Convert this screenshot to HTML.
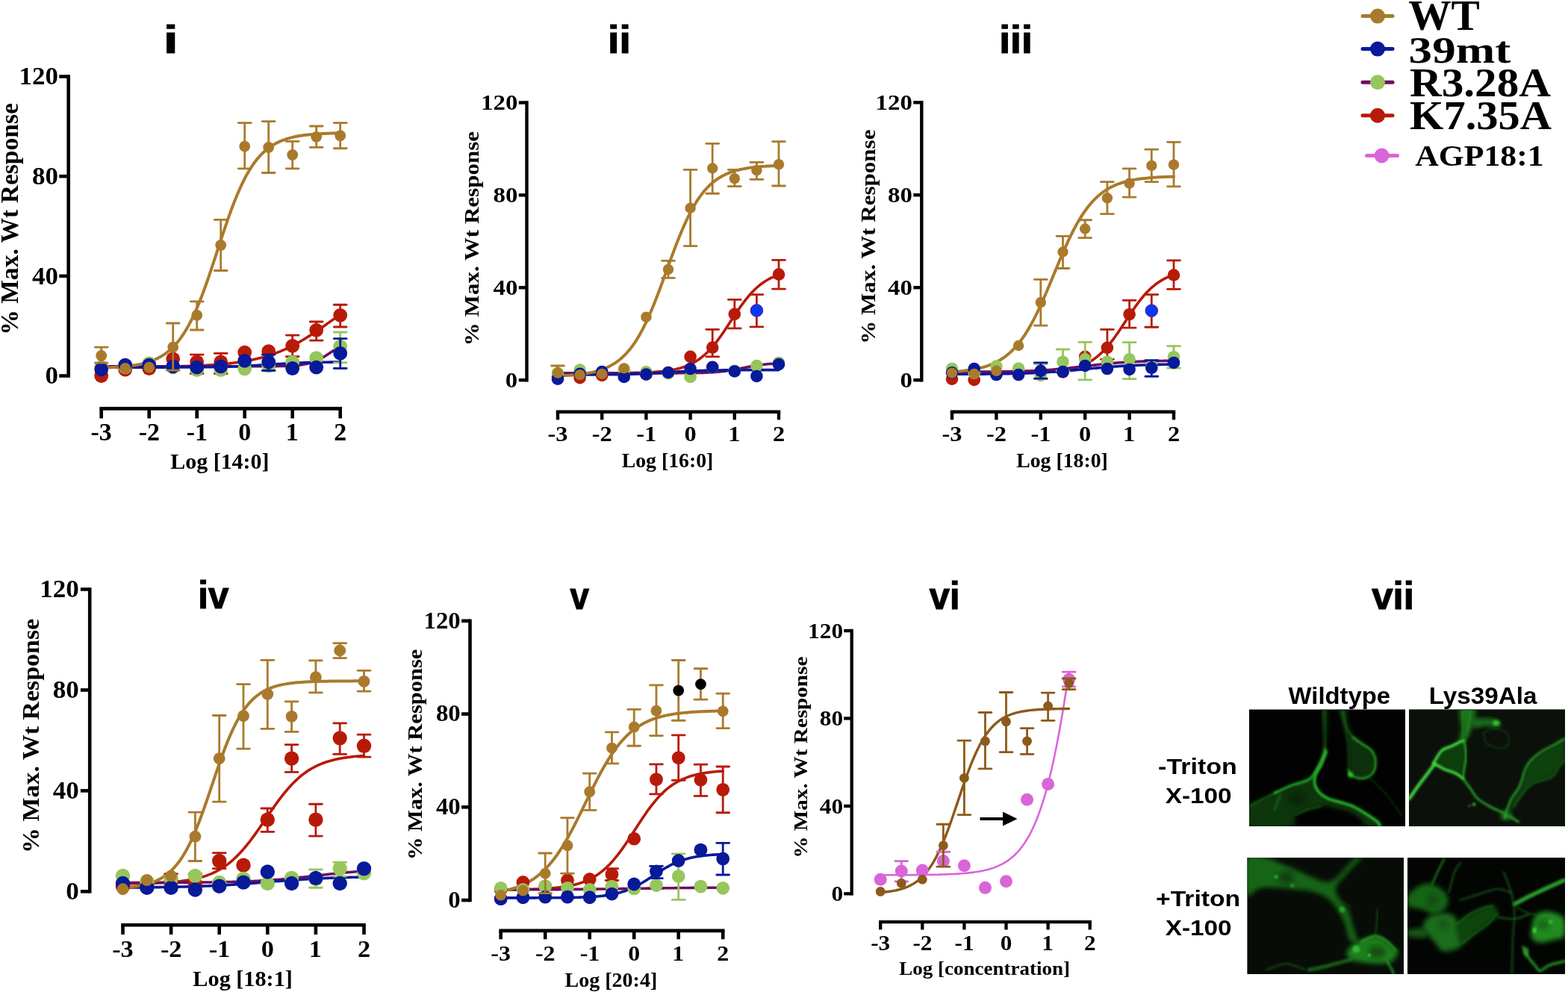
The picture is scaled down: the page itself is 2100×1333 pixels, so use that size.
<!DOCTYPE html>
<html><head><meta charset="utf-8"><title>Figure</title>
<style>html,body{margin:0;padding:0;background:#fff;} svg{display:block;}</style></head>
<body><svg width="2100" height="1333" viewBox="0 0 2100 1333">
<rect width="2100" height="1333" fill="#fff"/>
<g stroke="#000" stroke-width="4.6" fill="none" stroke-linecap="butt">
<line x1="91.7" y1="100.2" x2="91.7" y2="505.8"/>
<line x1="79.3" y1="503.50" x2="91.7" y2="503.50"/>
<line x1="79.3" y1="369.83" x2="91.7" y2="369.83"/>
<line x1="79.3" y1="236.17" x2="91.7" y2="236.17"/>
<line x1="79.3" y1="102.50" x2="91.7" y2="102.50"/>
<line x1="133.40" y1="547.4" x2="458.00" y2="547.4"/>
<line x1="135.70" y1="547.4" x2="135.70" y2="560.5"/>
<line x1="199.70" y1="547.4" x2="199.70" y2="560.5"/>
<line x1="263.70" y1="547.4" x2="263.70" y2="560.5"/>
<line x1="327.70" y1="547.4" x2="327.70" y2="560.5"/>
<line x1="391.70" y1="547.4" x2="391.70" y2="560.5"/>
<line x1="455.70" y1="547.4" x2="455.70" y2="560.5"/>
</g>
<text x="60.52" y="514.30" font-family="'Liberation Serif', 'Times New Roman', serif" font-weight="bold" font-size="32.70" textLength="17.51" lengthAdjust="spacingAndGlyphs" fill="#000" >0</text>
<text x="43.01" y="380.63" font-family="'Liberation Serif', 'Times New Roman', serif" font-weight="bold" font-size="32.70" textLength="35.02" lengthAdjust="spacingAndGlyphs" fill="#000" >40</text>
<text x="43.01" y="246.97" font-family="'Liberation Serif', 'Times New Roman', serif" font-weight="bold" font-size="32.70" textLength="35.02" lengthAdjust="spacingAndGlyphs" fill="#000" >80</text>
<text x="25.50" y="113.30" font-family="'Liberation Serif', 'Times New Roman', serif" font-weight="bold" font-size="32.70" textLength="52.53" lengthAdjust="spacingAndGlyphs" fill="#000" >120</text>
<text x="121.50" y="590.00" font-family="'Liberation Serif', 'Times New Roman', serif" font-weight="bold" font-size="33.00" textLength="28.31" lengthAdjust="spacingAndGlyphs" fill="#000" >-3</text>
<text x="185.65" y="590.00" font-family="'Liberation Serif', 'Times New Roman', serif" font-weight="bold" font-size="33.00" textLength="28.31" lengthAdjust="spacingAndGlyphs" fill="#000" >-2</text>
<text x="249.80" y="590.00" font-family="'Liberation Serif', 'Times New Roman', serif" font-weight="bold" font-size="33.00" textLength="28.31" lengthAdjust="spacingAndGlyphs" fill="#000" >-1</text>
<text x="319.20" y="590.00" font-family="'Liberation Serif', 'Times New Roman', serif" font-weight="bold" font-size="33.00" textLength="17.00" lengthAdjust="spacingAndGlyphs" fill="#000" >0</text>
<text x="382.72" y="590.00" font-family="'Liberation Serif', 'Times New Roman', serif" font-weight="bold" font-size="33.00" textLength="16.99" lengthAdjust="spacingAndGlyphs" fill="#000" >1</text>
<text x="447.22" y="590.00" font-family="'Liberation Serif', 'Times New Roman', serif" font-weight="bold" font-size="33.00" textLength="17.00" lengthAdjust="spacingAndGlyphs" fill="#000" >2</text>
<text x="228.29" y="628.10" font-family="'Liberation Serif', 'Times New Roman', serif" font-weight="bold" font-size="28.50" textLength="132.23" lengthAdjust="spacingAndGlyphs" fill="#000" >Log [14:0]</text>
<text transform="rotate(-90)" x="-448.73" y="23.90" font-family="'Liberation Serif', 'Times New Roman', serif" font-weight="bold" font-size="32.80" textLength="310.60" lengthAdjust="spacingAndGlyphs">% Max. Wt Response</text>
<text x="219.11" y="71.00" font-family="'Liberation Sans', Arial, Helvetica, sans-serif" font-weight="bold" font-size="51.50" textLength="19.44" lengthAdjust="spacingAndGlyphs" fill="#000" stroke="#000" stroke-width="1.2">i</text>
<polyline points="135.70,491.71 138.37,491.70 141.03,491.70 143.70,491.69 146.37,491.68 149.03,491.68 151.70,491.67 154.37,491.66 157.03,491.65 159.70,491.64 162.37,491.63 165.03,491.62 167.70,491.61 170.37,491.59 173.03,491.58 175.70,491.57 178.37,491.55 181.03,491.53 183.70,491.52 186.37,491.50 189.03,491.48 191.70,491.46 194.37,491.43 197.03,491.41 199.70,491.39 202.37,491.36 205.03,491.33 207.70,491.30 210.37,491.27 213.03,491.23 215.70,491.20 218.37,491.16 221.03,491.12 223.70,491.07 226.37,491.03 229.03,490.98 231.70,490.92 234.37,490.87 237.03,490.81 239.70,490.74 242.37,490.68 245.03,490.60 247.70,490.53 250.37,490.45 253.03,490.36 255.70,490.27 258.37,490.17 261.03,490.07 263.70,489.96 266.37,489.84 269.03,489.72 271.70,489.59 274.37,489.45 277.03,489.30 279.70,489.14 282.37,488.97 285.03,488.79 287.70,488.61 290.37,488.41 293.03,488.19 295.70,487.97 298.37,487.73 301.03,487.48 303.70,487.21 306.37,486.92 309.03,486.62 311.70,486.31 314.37,485.97 317.03,485.61 319.70,485.24 322.37,484.84 325.03,484.42 327.70,483.97 330.37,483.50 333.03,483.01 335.70,482.48 338.37,481.93 341.03,481.35 343.70,480.74 346.37,480.10 349.03,479.42 351.70,478.71 354.37,477.96 357.03,477.18 359.70,476.35 362.37,475.49 365.03,474.59 367.70,473.65 370.37,472.66 373.03,471.64 375.70,470.56 378.37,469.45 381.03,468.29 383.70,467.08 386.37,465.83 389.03,464.53 391.70,463.19 394.37,461.80 397.03,460.37 399.70,458.89 402.37,457.37 405.03,455.81 407.70,454.20 410.37,452.56 413.03,450.88 415.70,449.17 418.37,447.43 421.03,445.65 423.70,443.85 426.37,442.02 429.03,440.18 431.70,438.31 434.37,436.43 437.03,434.54 439.70,432.64 442.37,430.74 445.03,428.84 447.70,426.94 450.37,425.06 453.03,423.18 455.70,421.31" fill="none" stroke="#B81A08" stroke-width="3.6" stroke-linejoin="round" stroke-linecap="round"/>
<polyline points="135.70,490.80 138.37,490.80 141.03,490.80 143.70,490.80 146.37,490.80 149.03,490.80 151.70,490.80 154.37,490.80 157.03,490.80 159.70,490.80 162.37,490.80 165.03,490.80 167.70,490.80 170.37,490.80 173.03,490.80 175.70,490.80 178.37,490.80 181.03,490.80 183.70,490.80 186.37,490.80 189.03,490.80 191.70,490.80 194.37,490.80 197.03,490.80 199.70,490.80 202.37,490.80 205.03,490.80 207.70,490.80 210.37,490.80 213.03,490.80 215.70,490.80 218.37,490.80 221.03,490.80 223.70,490.80 226.37,490.80 229.03,490.80 231.70,490.80 234.37,490.80 237.03,490.80 239.70,490.80 242.37,490.80 245.03,490.80 247.70,490.80 250.37,490.80 253.03,490.80 255.70,490.80 258.37,490.80 261.03,490.80 263.70,490.80 266.37,490.80 269.03,490.80 271.70,490.80 274.37,490.80 277.03,490.80 279.70,490.80 282.37,490.80 285.03,490.80 287.70,490.80 290.37,490.80 293.03,490.80 295.70,490.80 298.37,490.80 301.03,490.80 303.70,490.80 306.37,490.80 309.03,490.80 311.70,490.80 314.37,490.80 317.03,490.80 319.70,490.80 322.37,490.80 325.03,490.79 327.70,490.79 330.37,490.79 333.03,490.79 335.70,490.78 338.37,490.78 341.03,490.78 343.70,490.77 346.37,490.77 349.03,490.76 351.70,490.75 354.37,490.74 357.03,490.72 359.70,490.71 362.37,490.69 365.03,490.66 367.70,490.64 370.37,490.60 373.03,490.56 375.70,490.51 378.37,490.44 381.03,490.37 383.70,490.28 386.37,490.17 389.03,490.04 391.70,489.88 394.37,489.70 397.03,489.47 399.70,489.20 402.37,488.88 405.03,488.50 407.70,488.05 410.37,487.52 413.03,486.89 415.70,486.17 418.37,485.33 421.03,484.37 423.70,483.29 426.37,482.07 429.03,480.72 431.70,479.25 434.37,477.66 437.03,475.98 439.70,474.23 442.37,472.45 445.03,470.65 447.70,468.89 450.37,467.18 453.03,465.55 455.70,464.03" fill="none" stroke="#6E0E5E" stroke-width="3.6" stroke-linejoin="round" stroke-linecap="round"/>
<polyline points="135.70,492.14 138.37,492.14 141.03,492.14 143.70,492.14 146.37,492.13 149.03,492.13 151.70,492.13 154.37,492.13 157.03,492.13 159.70,492.13 162.37,492.13 165.03,492.13 167.70,492.13 170.37,492.13 173.03,492.13 175.70,492.13 178.37,492.13 181.03,492.13 183.70,492.13 186.37,492.12 189.03,492.12 191.70,492.12 194.37,492.12 197.03,492.12 199.70,492.12 202.37,492.11 205.03,492.11 207.70,492.11 210.37,492.10 213.03,492.10 215.70,492.10 218.37,492.09 221.03,492.09 223.70,492.08 226.37,492.08 229.03,492.07 231.70,492.07 234.37,492.06 237.03,492.05 239.70,492.04 242.37,492.03 245.03,492.02 247.70,492.01 250.37,492.00 253.03,491.98 255.70,491.97 258.37,491.95 261.03,491.93 263.70,491.91 266.37,491.89 269.03,491.87 271.70,491.84 274.37,491.81 277.03,491.78 279.70,491.75 282.37,491.71 285.03,491.67 287.70,491.63 290.37,491.58 293.03,491.53 295.70,491.47 298.37,491.41 301.03,491.34 303.70,491.27 306.37,491.20 309.03,491.12 311.70,491.03 314.37,490.93 317.03,490.84 319.70,490.73 322.37,490.62 325.03,490.50 327.70,490.37 330.37,490.24 333.03,490.10 335.70,489.96 338.37,489.81 341.03,489.65 343.70,489.49 346.37,489.33 349.03,489.16 351.70,488.99 354.37,488.81 357.03,488.64 359.70,488.46 362.37,488.29 365.03,488.11 367.70,487.94 370.37,487.77 373.03,487.60 375.70,487.43 378.37,487.27 381.03,487.12 383.70,486.97 386.37,486.82 389.03,486.68 391.70,486.55 394.37,486.43 397.03,486.31 399.70,486.20 402.37,486.09 405.03,485.99 407.70,485.90 410.37,485.81 413.03,485.73 415.70,485.65 418.37,485.58 421.03,485.52 423.70,485.45 426.37,485.40 429.03,485.35 431.70,485.30 434.37,485.26 437.03,485.22 439.70,485.18 442.37,485.14 445.03,485.11 447.70,485.08 450.37,485.06 453.03,485.03 455.70,485.01" fill="none" stroke="#08199A" stroke-width="3.6" stroke-linejoin="round" stroke-linecap="round"/>
<polyline points="135.70,492.73 138.37,492.65 141.03,492.56 143.70,492.46 146.37,492.34 149.03,492.22 151.70,492.08 154.37,491.93 157.03,491.77 159.70,491.58 162.37,491.38 165.03,491.15 167.70,490.90 170.37,490.62 173.03,490.31 175.70,489.97 178.37,489.59 181.03,489.17 183.70,488.71 186.37,488.19 189.03,487.63 191.70,487.00 194.37,486.31 197.03,485.55 199.70,484.71 202.37,483.78 205.03,482.76 207.70,481.63 210.37,480.39 213.03,479.03 215.70,477.53 218.37,475.89 221.03,474.09 223.70,472.12 226.37,469.96 229.03,467.60 231.70,465.03 234.37,462.23 237.03,459.19 239.70,455.89 242.37,452.33 245.03,448.47 247.70,444.33 250.37,439.87 253.03,435.10 255.70,430.01 258.37,424.59 261.03,418.85 263.70,412.78 266.37,406.40 269.03,399.72 271.70,392.75 274.37,385.51 277.03,378.03 279.70,370.34 282.37,362.47 285.03,354.47 287.70,346.36 290.37,338.20 293.03,330.02 295.70,321.87 298.37,313.80 301.03,305.84 303.70,298.03 306.37,290.41 309.03,283.02 311.70,275.88 314.37,269.01 317.03,262.43 319.70,256.16 322.37,250.21 325.03,244.58 327.70,239.28 330.37,234.31 333.03,229.65 335.70,225.31 338.37,221.27 341.03,217.52 343.70,214.05 346.37,210.85 349.03,207.90 351.70,205.18 354.37,202.69 357.03,200.41 359.70,198.32 362.37,196.41 365.03,194.66 367.70,193.07 370.37,191.63 373.03,190.31 375.70,189.11 378.37,188.02 381.03,187.04 383.70,186.14 386.37,185.33 389.03,184.59 391.70,183.93 394.37,183.32 397.03,182.78 399.70,182.28 402.37,181.84 405.03,181.43 407.70,181.07 410.37,180.74 413.03,180.44 415.70,180.17 418.37,179.93 421.03,179.71 423.70,179.51 426.37,179.33 429.03,179.17 431.70,179.03 434.37,178.90 437.03,178.78 439.70,178.67 442.37,178.57 445.03,178.49 447.70,178.41 450.37,178.34 453.03,178.27 455.70,178.22" fill="none" stroke="#A97A2C" stroke-width="4.0" stroke-linejoin="round" stroke-linecap="round"/>
<path d="M263.70,500.49V475.10" stroke="#B81A08" stroke-width="2.8" fill="none"/>
<path d="M255.30,500.49H272.10" stroke="#B81A08" stroke-width="2.8" fill="none" stroke-linecap="round"/>
<path d="M255.30,475.10H272.10" stroke="#B81A08" stroke-width="2.8" fill="none" stroke-linecap="round"/>
<path d="M295.70,500.49V473.43" stroke="#B81A08" stroke-width="2.8" fill="none"/>
<path d="M287.30,500.49H304.10" stroke="#B81A08" stroke-width="2.8" fill="none" stroke-linecap="round"/>
<path d="M287.30,473.43H304.10" stroke="#B81A08" stroke-width="2.8" fill="none" stroke-linecap="round"/>
<path d="M391.70,477.77V449.03" stroke="#B81A08" stroke-width="2.8" fill="none"/>
<path d="M383.30,477.77H400.10" stroke="#B81A08" stroke-width="2.8" fill="none" stroke-linecap="round"/>
<path d="M383.30,449.03H400.10" stroke="#B81A08" stroke-width="2.8" fill="none" stroke-linecap="round"/>
<path d="M423.70,456.05V430.99" stroke="#B81A08" stroke-width="2.8" fill="none"/>
<path d="M415.30,456.05H432.10" stroke="#B81A08" stroke-width="2.8" fill="none" stroke-linecap="round"/>
<path d="M415.30,430.99H432.10" stroke="#B81A08" stroke-width="2.8" fill="none" stroke-linecap="round"/>
<path d="M455.70,438.00V408.26" stroke="#B81A08" stroke-width="2.8" fill="none"/>
<path d="M447.30,438.00H464.10" stroke="#B81A08" stroke-width="2.8" fill="none" stroke-linecap="round"/>
<path d="M447.30,408.26H464.10" stroke="#B81A08" stroke-width="2.8" fill="none" stroke-linecap="round"/>
<circle cx="135.70" cy="503.50" r="9.4" fill="#B81A08" />
<circle cx="167.70" cy="495.15" r="9.4" fill="#B81A08" />
<circle cx="199.70" cy="493.48" r="9.4" fill="#B81A08" />
<circle cx="231.70" cy="480.78" r="9.4" fill="#B81A08" />
<circle cx="263.70" cy="484.79" r="9.4" fill="#B81A08" />
<circle cx="295.70" cy="484.79" r="9.4" fill="#B81A08" />
<circle cx="327.70" cy="472.09" r="9.4" fill="#B81A08" />
<circle cx="359.70" cy="470.75" r="9.4" fill="#B81A08" />
<circle cx="391.70" cy="463.40" r="9.4" fill="#B81A08" />
<circle cx="423.70" cy="442.35" r="9.4" fill="#B81A08" />
<circle cx="455.70" cy="422.30" r="9.4" fill="#B81A08" />
<path d="M455.70,485.79V445.02" stroke="#96C65C" stroke-width="2.8" fill="none"/>
<path d="M447.30,485.79H464.10" stroke="#96C65C" stroke-width="2.8" fill="none" stroke-linecap="round"/>
<path d="M447.30,445.02H464.10" stroke="#96C65C" stroke-width="2.8" fill="none" stroke-linecap="round"/>
<circle cx="135.70" cy="491.80" r="9.4" fill="#96C65C" />
<circle cx="167.70" cy="491.80" r="9.4" fill="#96C65C" />
<circle cx="199.70" cy="486.79" r="9.4" fill="#96C65C" />
<circle cx="231.70" cy="491.80" r="9.4" fill="#96C65C" />
<circle cx="263.70" cy="495.48" r="9.4" fill="#96C65C" />
<circle cx="295.70" cy="495.48" r="9.4" fill="#96C65C" />
<circle cx="327.70" cy="493.81" r="9.4" fill="#96C65C" />
<circle cx="359.70" cy="490.13" r="9.4" fill="#96C65C" />
<circle cx="391.70" cy="485.45" r="9.4" fill="#96C65C" />
<circle cx="423.70" cy="479.77" r="9.4" fill="#96C65C" />
<circle cx="455.70" cy="464.07" r="9.4" fill="#96C65C" />
<path d="M359.70,496.48V475.10" stroke="#08199A" stroke-width="2.8" fill="none"/>
<path d="M351.30,496.48H368.10" stroke="#08199A" stroke-width="2.8" fill="none" stroke-linecap="round"/>
<path d="M351.30,475.10H368.10" stroke="#08199A" stroke-width="2.8" fill="none" stroke-linecap="round"/>
<path d="M455.70,493.48V453.71" stroke="#08199A" stroke-width="2.8" fill="none"/>
<path d="M447.30,493.48H464.10" stroke="#08199A" stroke-width="2.8" fill="none" stroke-linecap="round"/>
<path d="M447.30,453.71H464.10" stroke="#08199A" stroke-width="2.8" fill="none" stroke-linecap="round"/>
<circle cx="135.70" cy="494.81" r="9.4" fill="#08199A" />
<circle cx="167.70" cy="489.13" r="9.4" fill="#08199A" />
<circle cx="199.70" cy="489.13" r="9.4" fill="#08199A" />
<circle cx="231.70" cy="490.80" r="9.4" fill="#08199A" />
<circle cx="263.70" cy="492.14" r="9.4" fill="#08199A" />
<circle cx="295.70" cy="490.80" r="9.4" fill="#08199A" />
<circle cx="327.70" cy="483.45" r="9.4" fill="#08199A" />
<circle cx="359.70" cy="485.12" r="9.4" fill="#08199A" />
<circle cx="391.70" cy="493.48" r="9.4" fill="#08199A" />
<circle cx="423.70" cy="492.14" r="9.4" fill="#08199A" />
<circle cx="455.70" cy="473.43" r="9.4" fill="#08199A" />
<path d="M135.70,486.12V465.07" stroke="#A97A2C" stroke-width="2.8" fill="none"/>
<path d="M127.30,486.12H144.10" stroke="#A97A2C" stroke-width="2.8" fill="none" stroke-linecap="round"/>
<path d="M127.30,465.07H144.10" stroke="#A97A2C" stroke-width="2.8" fill="none" stroke-linecap="round"/>
<path d="M231.70,496.15V432.99" stroke="#A97A2C" stroke-width="2.8" fill="none"/>
<path d="M223.30,496.15H240.10" stroke="#A97A2C" stroke-width="2.8" fill="none" stroke-linecap="round"/>
<path d="M223.30,432.99H240.10" stroke="#A97A2C" stroke-width="2.8" fill="none" stroke-linecap="round"/>
<path d="M263.70,442.01V403.92" stroke="#A97A2C" stroke-width="2.8" fill="none"/>
<path d="M255.30,442.01H272.10" stroke="#A97A2C" stroke-width="2.8" fill="none" stroke-linecap="round"/>
<path d="M255.30,403.92H272.10" stroke="#A97A2C" stroke-width="2.8" fill="none" stroke-linecap="round"/>
<path d="M295.70,362.48V294.31" stroke="#A97A2C" stroke-width="2.8" fill="none"/>
<path d="M287.30,362.48H304.10" stroke="#A97A2C" stroke-width="2.8" fill="none" stroke-linecap="round"/>
<path d="M287.30,294.31H304.10" stroke="#A97A2C" stroke-width="2.8" fill="none" stroke-linecap="round"/>
<path d="M327.70,225.81V164.65" stroke="#A97A2C" stroke-width="2.8" fill="none"/>
<path d="M319.30,225.81H336.10" stroke="#A97A2C" stroke-width="2.8" fill="none" stroke-linecap="round"/>
<path d="M319.30,164.65H336.10" stroke="#A97A2C" stroke-width="2.8" fill="none" stroke-linecap="round"/>
<path d="M359.70,231.49V162.65" stroke="#A97A2C" stroke-width="2.8" fill="none"/>
<path d="M351.30,231.49H368.10" stroke="#A97A2C" stroke-width="2.8" fill="none" stroke-linecap="round"/>
<path d="M351.30,162.65H368.10" stroke="#A97A2C" stroke-width="2.8" fill="none" stroke-linecap="round"/>
<path d="M391.70,225.81V189.38" stroke="#A97A2C" stroke-width="2.8" fill="none"/>
<path d="M383.30,225.81H400.10" stroke="#A97A2C" stroke-width="2.8" fill="none" stroke-linecap="round"/>
<path d="M383.30,189.38H400.10" stroke="#A97A2C" stroke-width="2.8" fill="none" stroke-linecap="round"/>
<path d="M423.70,197.40V169.00" stroke="#A97A2C" stroke-width="2.8" fill="none"/>
<path d="M415.30,197.40H432.10" stroke="#A97A2C" stroke-width="2.8" fill="none" stroke-linecap="round"/>
<path d="M415.30,169.00H432.10" stroke="#A97A2C" stroke-width="2.8" fill="none" stroke-linecap="round"/>
<path d="M455.70,198.74V164.65" stroke="#A97A2C" stroke-width="2.8" fill="none"/>
<path d="M447.30,198.74H464.10" stroke="#A97A2C" stroke-width="2.8" fill="none" stroke-linecap="round"/>
<path d="M447.30,164.65H464.10" stroke="#A97A2C" stroke-width="2.8" fill="none" stroke-linecap="round"/>
<circle cx="135.70" cy="476.43" r="7.4" fill="#A97A2C" />
<circle cx="167.70" cy="493.48" r="7.4" fill="#A97A2C" />
<circle cx="199.70" cy="492.14" r="7.4" fill="#A97A2C" />
<circle cx="231.70" cy="465.07" r="7.4" fill="#A97A2C" />
<circle cx="263.70" cy="422.30" r="7.4" fill="#A97A2C" />
<circle cx="295.70" cy="328.40" r="7.4" fill="#A97A2C" />
<circle cx="327.70" cy="196.07" r="7.4" fill="#A97A2C" />
<circle cx="359.70" cy="197.40" r="7.4" fill="#A97A2C" />
<circle cx="391.70" cy="207.43" r="7.4" fill="#A97A2C" />
<circle cx="423.70" cy="183.37" r="7.4" fill="#A97A2C" />
<circle cx="455.70" cy="181.70" r="7.4" fill="#A97A2C" />
<g stroke="#000" stroke-width="4.4" fill="none" stroke-linecap="butt">
<line x1="705.5" y1="135.3" x2="705.5" y2="511.4"/>
<line x1="694.8" y1="509.20" x2="705.5" y2="509.20"/>
<line x1="694.8" y1="385.30" x2="705.5" y2="385.30"/>
<line x1="694.8" y1="261.40" x2="705.5" y2="261.40"/>
<line x1="694.8" y1="137.50" x2="705.5" y2="137.50"/>
<line x1="744.80" y1="551.7" x2="1045.20" y2="551.7"/>
<line x1="747.00" y1="551.7" x2="747.00" y2="562.4"/>
<line x1="806.20" y1="551.7" x2="806.20" y2="562.4"/>
<line x1="865.40" y1="551.7" x2="865.40" y2="562.4"/>
<line x1="924.60" y1="551.7" x2="924.60" y2="562.4"/>
<line x1="983.80" y1="551.7" x2="983.80" y2="562.4"/>
<line x1="1043.00" y1="551.7" x2="1043.00" y2="562.4"/>
</g>
<text x="676.89" y="518.70" font-family="'Liberation Serif', 'Times New Roman', serif" font-weight="bold" font-size="30.20" textLength="16.46" lengthAdjust="spacingAndGlyphs" fill="#000" >0</text>
<text x="660.44" y="394.80" font-family="'Liberation Serif', 'Times New Roman', serif" font-weight="bold" font-size="30.20" textLength="32.92" lengthAdjust="spacingAndGlyphs" fill="#000" >40</text>
<text x="660.44" y="270.90" font-family="'Liberation Serif', 'Times New Roman', serif" font-weight="bold" font-size="30.20" textLength="32.92" lengthAdjust="spacingAndGlyphs" fill="#000" >80</text>
<text x="643.98" y="147.00" font-family="'Liberation Serif', 'Times New Roman', serif" font-weight="bold" font-size="30.20" textLength="49.38" lengthAdjust="spacingAndGlyphs" fill="#000" >120</text>
<text x="733.47" y="590.50" font-family="'Liberation Serif', 'Times New Roman', serif" font-weight="bold" font-size="30.00" textLength="26.99" lengthAdjust="spacingAndGlyphs" fill="#000" >-3</text>
<text x="792.81" y="590.50" font-family="'Liberation Serif', 'Times New Roman', serif" font-weight="bold" font-size="30.00" textLength="26.99" lengthAdjust="spacingAndGlyphs" fill="#000" >-2</text>
<text x="852.15" y="590.50" font-family="'Liberation Serif', 'Times New Roman', serif" font-weight="bold" font-size="30.00" textLength="26.99" lengthAdjust="spacingAndGlyphs" fill="#000" >-1</text>
<text x="916.50" y="590.50" font-family="'Liberation Serif', 'Times New Roman', serif" font-weight="bold" font-size="30.00" textLength="16.20" lengthAdjust="spacingAndGlyphs" fill="#000" >0</text>
<text x="975.24" y="590.50" font-family="'Liberation Serif', 'Times New Roman', serif" font-weight="bold" font-size="30.00" textLength="16.20" lengthAdjust="spacingAndGlyphs" fill="#000" >1</text>
<text x="1034.92" y="590.50" font-family="'Liberation Serif', 'Times New Roman', serif" font-weight="bold" font-size="30.00" textLength="16.20" lengthAdjust="spacingAndGlyphs" fill="#000" >2</text>
<text x="832.73" y="625.70" font-family="'Liberation Serif', 'Times New Roman', serif" font-weight="bold" font-size="27.20" textLength="122.53" lengthAdjust="spacingAndGlyphs" fill="#000" >Log [16:0]</text>
<text transform="rotate(-90)" x="-463.17" y="641.20" font-family="'Liberation Serif', 'Times New Roman', serif" font-weight="bold" font-size="27.50" textLength="287.18" lengthAdjust="spacingAndGlyphs">% Max. Wt Response</text>
<text x="814.13" y="71.00" font-family="'Liberation Sans', Arial, Helvetica, sans-serif" font-weight="bold" font-size="51.50" textLength="30.79" lengthAdjust="spacingAndGlyphs" fill="#000" stroke="#000" stroke-width="1.2">ii</text>
<polyline points="747.00,499.90 749.47,499.90 751.93,499.90 754.40,499.90 756.87,499.90 759.33,499.90 761.80,499.90 764.27,499.90 766.73,499.90 769.20,499.89 771.67,499.89 774.13,499.89 776.60,499.89 779.07,499.89 781.53,499.88 784.00,499.88 786.47,499.88 788.93,499.87 791.40,499.87 793.87,499.87 796.33,499.86 798.80,499.86 801.27,499.85 803.73,499.84 806.20,499.84 808.67,499.83 811.13,499.82 813.60,499.81 816.07,499.80 818.53,499.79 821.00,499.77 823.47,499.76 825.93,499.74 828.40,499.72 830.87,499.70 833.33,499.67 835.80,499.65 838.27,499.62 840.73,499.59 843.20,499.55 845.67,499.51 848.13,499.46 850.60,499.41 853.07,499.35 855.53,499.29 858.00,499.22 860.47,499.14 862.93,499.06 865.40,498.96 867.87,498.85 870.33,498.73 872.80,498.60 875.27,498.45 877.73,498.28 880.20,498.10 882.67,497.90 885.13,497.67 887.60,497.42 890.07,497.14 892.53,496.83 895.00,496.48 897.47,496.10 899.93,495.68 902.40,495.21 904.87,494.69 907.33,494.12 909.80,493.49 912.27,492.79 914.73,492.03 917.20,491.18 919.67,490.25 922.13,489.23 924.60,488.11 927.07,486.88 929.53,485.55 932.00,484.09 934.47,482.50 936.93,480.78 939.40,478.92 941.87,476.92 944.33,474.76 946.80,472.45 949.27,469.98 951.73,467.35 954.20,464.57 956.67,461.63 959.13,458.55 961.60,455.33 964.07,451.98 966.53,448.51 969.00,444.95 971.47,441.30 973.93,437.59 976.40,433.84 978.87,430.06 981.33,426.29 983.80,422.54 986.27,418.83 988.73,415.19 991.20,411.63 993.67,408.18 996.13,404.84 998.60,401.63 1001.07,398.56 1003.53,395.63 1006.00,392.86 1008.47,390.25 1010.93,387.79 1013.40,385.49 1015.87,383.35 1018.33,381.35 1020.80,379.50 1023.27,377.79 1025.73,376.22 1028.20,374.77 1030.67,373.44 1033.13,372.23 1035.60,371.11 1038.07,370.10 1040.53,369.18 1043.00,368.34" fill="none" stroke="#B81A08" stroke-width="3.6" stroke-linejoin="round" stroke-linecap="round"/>
<polyline points="747.00,499.91 749.47,499.91 751.93,499.91 754.40,499.91 756.87,499.91 759.33,499.91 761.80,499.91 764.27,499.91 766.73,499.91 769.20,499.91 771.67,499.91 774.13,499.91 776.60,499.91 779.07,499.91 781.53,499.91 784.00,499.91 786.47,499.91 788.93,499.91 791.40,499.91 793.87,499.91 796.33,499.91 798.80,499.91 801.27,499.91 803.73,499.91 806.20,499.91 808.67,499.91 811.13,499.91 813.60,499.91 816.07,499.91 818.53,499.91 821.00,499.91 823.47,499.91 825.93,499.91 828.40,499.91 830.87,499.91 833.33,499.91 835.80,499.91 838.27,499.91 840.73,499.91 843.20,499.91 845.67,499.91 848.13,499.90 850.60,499.90 853.07,499.90 855.53,499.90 858.00,499.90 860.47,499.90 862.93,499.90 865.40,499.90 867.87,499.90 870.33,499.90 872.80,499.90 875.27,499.90 877.73,499.89 880.20,499.89 882.67,499.89 885.13,499.89 887.60,499.88 890.07,499.88 892.53,499.87 895.00,499.87 897.47,499.86 899.93,499.86 902.40,499.85 904.87,499.84 907.33,499.83 909.80,499.81 912.27,499.80 914.73,499.78 917.20,499.77 919.67,499.74 922.13,499.72 924.60,499.69 927.07,499.66 929.53,499.62 932.00,499.58 934.47,499.53 936.93,499.47 939.40,499.40 941.87,499.33 944.33,499.24 946.80,499.14 949.27,499.03 951.73,498.91 954.20,498.77 956.67,498.61 959.13,498.43 961.60,498.23 964.07,498.00 966.53,497.75 969.00,497.48 971.47,497.17 973.93,496.84 976.40,496.48 978.87,496.10 981.33,495.69 983.80,495.25 986.27,494.80 988.73,494.32 991.20,493.84 993.67,493.34 996.13,492.84 998.60,492.34 1001.07,491.84 1003.53,491.36 1006.00,490.89 1008.47,490.45 1010.93,490.02 1013.40,489.62 1015.87,489.24 1018.33,488.90 1020.80,488.58 1023.27,488.29 1025.73,488.02 1028.20,487.78 1030.67,487.57 1033.13,487.37 1035.60,487.20 1038.07,487.05 1040.53,486.92 1043.00,486.80" fill="none" stroke="#6E0E5E" stroke-width="3.6" stroke-linejoin="round" stroke-linecap="round"/>
<polyline points="747.00,502.06 749.47,502.05 751.93,502.05 754.40,502.05 756.87,502.05 759.33,502.04 761.80,502.04 764.27,502.04 766.73,502.03 769.20,502.03 771.67,502.02 774.13,502.02 776.60,502.01 779.07,502.00 781.53,502.00 784.00,501.99 786.47,501.98 788.93,501.97 791.40,501.96 793.87,501.95 796.33,501.94 798.80,501.93 801.27,501.91 803.73,501.89 806.20,501.88 808.67,501.86 811.13,501.84 813.60,501.81 816.07,501.79 818.53,501.76 821.00,501.73 823.47,501.70 825.93,501.66 828.40,501.62 830.87,501.58 833.33,501.53 835.80,501.48 838.27,501.43 840.73,501.37 843.20,501.31 845.67,501.24 848.13,501.17 850.60,501.09 853.07,501.01 855.53,500.92 858.00,500.83 860.47,500.73 862.93,500.62 865.40,500.51 867.87,500.40 870.33,500.27 872.80,500.15 875.27,500.01 877.73,499.88 880.20,499.73 882.67,499.59 885.13,499.44 887.60,499.29 890.07,499.13 892.53,498.98 895.00,498.82 897.47,498.67 899.93,498.51 902.40,498.36 904.87,498.21 907.33,498.06 909.80,497.91 912.27,497.77 914.73,497.63 917.20,497.50 919.67,497.37 922.13,497.25 924.60,497.13 927.07,497.02 929.53,496.92 932.00,496.82 934.47,496.72 936.93,496.64 939.40,496.55 941.87,496.48 944.33,496.40 946.80,496.34 949.27,496.27 951.73,496.22 954.20,496.16 956.67,496.11 959.13,496.07 961.60,496.02 964.07,495.99 966.53,495.95 969.00,495.92 971.47,495.89 973.93,495.86 976.40,495.83 978.87,495.81 981.33,495.79 983.80,495.77 986.27,495.75 988.73,495.74 991.20,495.72 993.67,495.71 996.13,495.70 998.60,495.68 1001.07,495.67 1003.53,495.67 1006.00,495.66 1008.47,495.65 1010.93,495.64 1013.40,495.64 1015.87,495.63 1018.33,495.62 1020.80,495.62 1023.27,495.62 1025.73,495.61 1028.20,495.61 1030.67,495.60 1033.13,495.60 1035.60,495.60 1038.07,495.60 1040.53,495.59 1043.00,495.59" fill="none" stroke="#08199A" stroke-width="3.6" stroke-linejoin="round" stroke-linecap="round"/>
<polyline points="747.00,503.57 749.47,503.48 751.93,503.37 754.40,503.25 756.87,503.12 759.33,502.97 761.80,502.82 764.27,502.64 766.73,502.45 769.20,502.24 771.67,502.01 774.13,501.76 776.60,501.48 779.07,501.17 781.53,500.84 784.00,500.47 786.47,500.06 788.93,499.62 791.40,499.13 793.87,498.60 796.33,498.01 798.80,497.37 801.27,496.67 803.73,495.90 806.20,495.06 808.67,494.13 811.13,493.13 813.60,492.03 816.07,490.83 818.53,489.52 821.00,488.09 823.47,486.54 825.93,484.85 828.40,483.02 830.87,481.03 833.33,478.88 835.80,476.55 838.27,474.03 840.73,471.32 843.20,468.40 845.67,465.26 848.13,461.90 850.60,458.31 853.07,454.47 855.53,450.40 858.00,446.07 860.47,441.49 862.93,436.66 865.40,431.58 867.87,426.26 870.33,420.71 872.80,414.94 875.27,408.96 877.73,402.79 880.20,396.45 882.67,389.97 885.13,383.36 887.60,376.67 890.07,369.91 892.53,363.12 895.00,356.32 897.47,349.56 899.93,342.86 902.40,336.24 904.87,329.75 907.33,323.40 909.80,317.21 912.27,311.22 914.73,305.43 917.20,299.86 919.67,294.52 922.13,289.42 924.60,284.58 927.07,279.98 929.53,275.63 932.00,271.53 934.47,267.68 936.93,264.06 939.40,260.68 941.87,257.53 944.33,254.59 946.80,251.86 949.27,249.33 951.73,246.99 954.20,244.82 956.67,242.82 959.13,240.97 961.60,239.28 964.07,237.71 966.53,236.28 969.00,234.96 971.47,233.75 973.93,232.64 976.40,231.63 978.87,230.70 981.33,229.85 983.80,229.08 986.27,228.37 988.73,227.72 991.20,227.13 993.67,226.59 996.13,226.10 998.60,225.66 1001.07,225.25 1003.53,224.88 1006.00,224.54 1008.47,224.23 1010.93,223.95 1013.40,223.69 1015.87,223.46 1018.33,223.25 1020.80,223.06 1023.27,222.88 1025.73,222.72 1028.20,222.58 1030.67,222.45 1033.13,222.33 1035.60,222.22 1038.07,222.12 1040.53,222.03 1043.00,221.95" fill="none" stroke="#A97A2C" stroke-width="4.0" stroke-linejoin="round" stroke-linecap="round"/>
<path d="M954.20,477.92V441.36" stroke="#B81A08" stroke-width="2.8" fill="none"/>
<path d="M945.80,477.92H962.60" stroke="#B81A08" stroke-width="2.8" fill="none" stroke-linecap="round"/>
<path d="M945.80,441.36H962.60" stroke="#B81A08" stroke-width="2.8" fill="none" stroke-linecap="round"/>
<path d="M983.80,439.82V401.41" stroke="#B81A08" stroke-width="2.8" fill="none"/>
<path d="M975.40,439.82H992.20" stroke="#B81A08" stroke-width="2.8" fill="none" stroke-linecap="round"/>
<path d="M975.40,401.41H992.20" stroke="#B81A08" stroke-width="2.8" fill="none" stroke-linecap="round"/>
<path d="M1013.40,437.96V394.59" stroke="#B81A08" stroke-width="2.8" fill="none"/>
<path d="M1005.00,437.96H1021.80" stroke="#B81A08" stroke-width="2.8" fill="none" stroke-linecap="round"/>
<path d="M1005.00,394.59H1021.80" stroke="#B81A08" stroke-width="2.8" fill="none" stroke-linecap="round"/>
<path d="M1043.00,387.16V348.44" stroke="#B81A08" stroke-width="2.8" fill="none"/>
<path d="M1034.60,387.16H1051.40" stroke="#B81A08" stroke-width="2.8" fill="none" stroke-linecap="round"/>
<path d="M1034.60,348.44H1051.40" stroke="#B81A08" stroke-width="2.8" fill="none" stroke-linecap="round"/>
<circle cx="747.00" cy="504.55" r="8.3" fill="#B81A08" />
<circle cx="776.60" cy="506.10" r="8.3" fill="#B81A08" />
<circle cx="806.20" cy="503.00" r="8.3" fill="#B81A08" />
<circle cx="835.80" cy="501.46" r="8.3" fill="#B81A08" />
<circle cx="865.40" cy="501.46" r="8.3" fill="#B81A08" />
<circle cx="895.00" cy="499.91" r="8.3" fill="#B81A08" />
<circle cx="924.60" cy="477.92" r="8.3" fill="#B81A08" />
<circle cx="954.20" cy="465.53" r="8.3" fill="#B81A08" />
<circle cx="983.80" cy="420.92" r="8.3" fill="#B81A08" />
<circle cx="1013.40" cy="415.97" r="8.3" fill="#0B36F8" stroke="#5a1a8a" stroke-width="1"/>
<circle cx="1043.00" cy="367.64" r="8.3" fill="#B81A08" />
<circle cx="747.00" cy="499.91" r="8.3" fill="#96C65C" />
<circle cx="776.60" cy="495.57" r="8.3" fill="#96C65C" />
<circle cx="806.20" cy="498.36" r="8.3" fill="#96C65C" />
<circle cx="835.80" cy="495.26" r="8.3" fill="#96C65C" />
<circle cx="865.40" cy="498.36" r="8.3" fill="#96C65C" />
<circle cx="895.00" cy="499.91" r="8.3" fill="#96C65C" />
<circle cx="924.60" cy="504.86" r="8.3" fill="#96C65C" />
<circle cx="954.20" cy="492.16" r="8.3" fill="#96C65C" />
<circle cx="983.80" cy="496.81" r="8.3" fill="#96C65C" />
<circle cx="1013.40" cy="490.00" r="8.3" fill="#96C65C" />
<circle cx="1043.00" cy="485.97" r="8.3" fill="#96C65C" />
<circle cx="747.00" cy="507.65" r="8.3" fill="#08199A" />
<circle cx="776.60" cy="500.84" r="8.3" fill="#08199A" />
<circle cx="806.20" cy="498.05" r="8.3" fill="#08199A" />
<circle cx="835.80" cy="504.86" r="8.3" fill="#08199A" />
<circle cx="865.40" cy="501.46" r="8.3" fill="#08199A" />
<circle cx="895.00" cy="498.98" r="8.3" fill="#08199A" />
<circle cx="924.60" cy="494.02" r="8.3" fill="#08199A" />
<circle cx="954.20" cy="491.85" r="8.3" fill="#08199A" />
<circle cx="983.80" cy="497.43" r="8.3" fill="#08199A" />
<circle cx="1013.40" cy="503.93" r="8.3" fill="#08199A" />
<circle cx="1043.00" cy="488.14" r="8.3" fill="#08199A" />
<path d="M747.00,499.60V490.00" stroke="#A97A2C" stroke-width="2.8" fill="none"/>
<path d="M738.60,490.00H755.40" stroke="#A97A2C" stroke-width="2.8" fill="none" stroke-linecap="round"/>
<path d="M895.00,372.29V349.37" stroke="#A97A2C" stroke-width="2.8" fill="none"/>
<path d="M886.60,372.29H903.40" stroke="#A97A2C" stroke-width="2.8" fill="none" stroke-linecap="round"/>
<path d="M886.60,349.37H903.40" stroke="#A97A2C" stroke-width="2.8" fill="none" stroke-linecap="round"/>
<path d="M924.60,329.55V227.33" stroke="#A97A2C" stroke-width="2.8" fill="none"/>
<path d="M916.20,329.55H933.00" stroke="#A97A2C" stroke-width="2.8" fill="none" stroke-linecap="round"/>
<path d="M916.20,227.33H933.00" stroke="#A97A2C" stroke-width="2.8" fill="none" stroke-linecap="round"/>
<path d="M954.20,259.23V192.33" stroke="#A97A2C" stroke-width="2.8" fill="none"/>
<path d="M945.80,259.23H962.60" stroke="#A97A2C" stroke-width="2.8" fill="none" stroke-linecap="round"/>
<path d="M945.80,192.33H962.60" stroke="#A97A2C" stroke-width="2.8" fill="none" stroke-linecap="round"/>
<path d="M983.80,249.63V227.33" stroke="#A97A2C" stroke-width="2.8" fill="none"/>
<path d="M975.40,249.63H992.20" stroke="#A97A2C" stroke-width="2.8" fill="none" stroke-linecap="round"/>
<path d="M975.40,227.33H992.20" stroke="#A97A2C" stroke-width="2.8" fill="none" stroke-linecap="round"/>
<path d="M1013.40,240.34V217.42" stroke="#A97A2C" stroke-width="2.8" fill="none"/>
<path d="M1005.00,240.34H1021.80" stroke="#A97A2C" stroke-width="2.8" fill="none" stroke-linecap="round"/>
<path d="M1005.00,217.42H1021.80" stroke="#A97A2C" stroke-width="2.8" fill="none" stroke-linecap="round"/>
<path d="M1043.00,249.01V189.54" stroke="#A97A2C" stroke-width="2.8" fill="none"/>
<path d="M1034.60,249.01H1051.40" stroke="#A97A2C" stroke-width="2.8" fill="none" stroke-linecap="round"/>
<path d="M1034.60,189.54H1051.40" stroke="#A97A2C" stroke-width="2.8" fill="none" stroke-linecap="round"/>
<circle cx="747.00" cy="499.60" r="7.2" fill="#A97A2C" />
<circle cx="776.60" cy="502.08" r="7.2" fill="#A97A2C" />
<circle cx="806.20" cy="500.84" r="7.2" fill="#A97A2C" />
<circle cx="835.80" cy="493.40" r="7.2" fill="#A97A2C" />
<circle cx="865.40" cy="424.64" r="7.2" fill="#A97A2C" />
<circle cx="895.00" cy="360.83" r="7.2" fill="#A97A2C" />
<circle cx="924.60" cy="278.75" r="7.2" fill="#A97A2C" />
<circle cx="954.20" cy="225.47" r="7.2" fill="#A97A2C" />
<circle cx="983.80" cy="239.10" r="7.2" fill="#A97A2C" />
<circle cx="1013.40" cy="228.26" r="7.2" fill="#A97A2C" />
<circle cx="1043.00" cy="220.20" r="7.2" fill="#A97A2C" />
<g stroke="#000" stroke-width="4.4" fill="none" stroke-linecap="butt">
<line x1="1234.3" y1="135.10000000000002" x2="1234.3" y2="511.4"/>
<line x1="1223.3" y1="509.20" x2="1234.3" y2="509.20"/>
<line x1="1223.3" y1="385.23" x2="1234.3" y2="385.23"/>
<line x1="1223.3" y1="261.27" x2="1234.3" y2="261.27"/>
<line x1="1223.3" y1="137.30" x2="1234.3" y2="137.30"/>
<line x1="1272.80" y1="551.75" x2="1574.20" y2="551.75"/>
<line x1="1275.00" y1="551.75" x2="1275.00" y2="562.4"/>
<line x1="1334.40" y1="551.75" x2="1334.40" y2="562.4"/>
<line x1="1393.80" y1="551.75" x2="1393.80" y2="562.4"/>
<line x1="1453.20" y1="551.75" x2="1453.20" y2="562.4"/>
<line x1="1512.60" y1="551.75" x2="1512.60" y2="562.4"/>
<line x1="1572.00" y1="551.75" x2="1572.00" y2="562.4"/>
</g>
<text x="1205.49" y="518.70" font-family="'Liberation Serif', 'Times New Roman', serif" font-weight="bold" font-size="30.20" textLength="16.46" lengthAdjust="spacingAndGlyphs" fill="#000" >0</text>
<text x="1189.04" y="394.73" font-family="'Liberation Serif', 'Times New Roman', serif" font-weight="bold" font-size="30.20" textLength="32.92" lengthAdjust="spacingAndGlyphs" fill="#000" >40</text>
<text x="1189.04" y="270.77" font-family="'Liberation Serif', 'Times New Roman', serif" font-weight="bold" font-size="30.20" textLength="32.92" lengthAdjust="spacingAndGlyphs" fill="#000" >80</text>
<text x="1172.58" y="146.80" font-family="'Liberation Serif', 'Times New Roman', serif" font-weight="bold" font-size="30.20" textLength="49.38" lengthAdjust="spacingAndGlyphs" fill="#000" >120</text>
<text x="1261.47" y="590.50" font-family="'Liberation Serif', 'Times New Roman', serif" font-weight="bold" font-size="30.00" textLength="26.99" lengthAdjust="spacingAndGlyphs" fill="#000" >-3</text>
<text x="1321.01" y="590.50" font-family="'Liberation Serif', 'Times New Roman', serif" font-weight="bold" font-size="30.00" textLength="26.99" lengthAdjust="spacingAndGlyphs" fill="#000" >-2</text>
<text x="1380.55" y="590.50" font-family="'Liberation Serif', 'Times New Roman', serif" font-weight="bold" font-size="30.00" textLength="26.99" lengthAdjust="spacingAndGlyphs" fill="#000" >-1</text>
<text x="1445.10" y="590.50" font-family="'Liberation Serif', 'Times New Roman', serif" font-weight="bold" font-size="30.00" textLength="16.20" lengthAdjust="spacingAndGlyphs" fill="#000" >0</text>
<text x="1504.04" y="590.50" font-family="'Liberation Serif', 'Times New Roman', serif" font-weight="bold" font-size="30.00" textLength="16.20" lengthAdjust="spacingAndGlyphs" fill="#000" >1</text>
<text x="1563.92" y="590.50" font-family="'Liberation Serif', 'Times New Roman', serif" font-weight="bold" font-size="30.00" textLength="16.20" lengthAdjust="spacingAndGlyphs" fill="#000" >2</text>
<text x="1361.23" y="625.70" font-family="'Liberation Serif', 'Times New Roman', serif" font-weight="bold" font-size="27.20" textLength="122.53" lengthAdjust="spacingAndGlyphs" fill="#000" >Log [18:0]</text>
<text transform="rotate(-90)" x="-460.77" y="1171.50" font-family="'Liberation Serif', 'Times New Roman', serif" font-weight="bold" font-size="27.50" textLength="287.18" lengthAdjust="spacingAndGlyphs">% Max. Wt Response</text>
<text x="1338.27" y="71.00" font-family="'Liberation Sans', Arial, Helvetica, sans-serif" font-weight="bold" font-size="51.50" textLength="44.51" lengthAdjust="spacingAndGlyphs" fill="#000" stroke="#000" stroke-width="1.2">iii</text>
<polyline points="1275.00,499.90 1277.47,499.90 1279.95,499.90 1282.42,499.90 1284.90,499.89 1287.38,499.89 1289.85,499.89 1292.33,499.89 1294.80,499.89 1297.28,499.89 1299.75,499.89 1302.22,499.89 1304.70,499.88 1307.17,499.88 1309.65,499.88 1312.12,499.88 1314.60,499.87 1317.08,499.87 1319.55,499.87 1322.03,499.86 1324.50,499.86 1326.97,499.85 1329.45,499.85 1331.92,499.84 1334.40,499.83 1336.88,499.82 1339.35,499.81 1341.83,499.80 1344.30,499.79 1346.78,499.78 1349.25,499.77 1351.72,499.75 1354.20,499.73 1356.67,499.71 1359.15,499.69 1361.62,499.67 1364.10,499.64 1366.58,499.61 1369.05,499.58 1371.53,499.54 1374.00,499.50 1376.47,499.46 1378.95,499.41 1381.42,499.35 1383.90,499.29 1386.38,499.22 1388.85,499.14 1391.33,499.05 1393.80,498.95 1396.28,498.84 1398.75,498.72 1401.22,498.59 1403.70,498.44 1406.17,498.28 1408.65,498.09 1411.12,497.89 1413.60,497.66 1416.08,497.41 1418.55,497.13 1421.03,496.82 1423.50,496.48 1425.97,496.10 1428.45,495.67 1430.92,495.20 1433.40,494.69 1435.88,494.11 1438.35,493.48 1440.83,492.78 1443.30,492.02 1445.78,491.17 1448.25,490.24 1450.72,489.22 1453.20,488.10 1455.67,486.87 1458.15,485.53 1460.62,484.07 1463.10,482.49 1465.58,480.77 1468.05,478.91 1470.53,476.90 1473.00,474.74 1475.47,472.43 1477.95,469.96 1480.42,467.33 1482.90,464.54 1485.38,461.61 1487.85,458.52 1490.33,455.30 1492.80,451.95 1495.28,448.48 1497.75,444.91 1500.22,441.26 1502.70,437.55 1505.17,433.80 1507.65,430.02 1510.12,426.24 1512.60,422.49 1515.08,418.78 1517.55,415.14 1520.03,411.58 1522.50,408.12 1524.97,404.78 1527.45,401.57 1529.92,398.50 1532.40,395.57 1534.88,392.80 1537.35,390.18 1539.83,387.73 1542.30,385.42 1544.78,383.28 1547.25,381.28 1549.72,379.43 1552.20,377.72 1554.67,376.15 1557.15,374.70 1559.62,373.37 1562.10,372.15 1564.58,371.04 1567.05,370.03 1569.53,369.10 1572.00,368.26" fill="none" stroke="#B81A08" stroke-width="3.6" stroke-linejoin="round" stroke-linecap="round"/>
<polyline points="1275.00,498.29 1277.47,498.29 1279.95,498.28 1282.42,498.28 1284.90,498.27 1287.38,498.26 1289.85,498.26 1292.33,498.25 1294.80,498.24 1297.28,498.23 1299.75,498.22 1302.22,498.21 1304.70,498.20 1307.17,498.19 1309.65,498.17 1312.12,498.16 1314.60,498.15 1317.08,498.13 1319.55,498.11 1322.03,498.09 1324.50,498.07 1326.97,498.05 1329.45,498.03 1331.92,498.00 1334.40,497.97 1336.88,497.94 1339.35,497.91 1341.83,497.88 1344.30,497.84 1346.78,497.80 1349.25,497.76 1351.72,497.71 1354.20,497.67 1356.67,497.61 1359.15,497.56 1361.62,497.50 1364.10,497.43 1366.58,497.36 1369.05,497.29 1371.53,497.21 1374.00,497.13 1376.47,497.04 1378.95,496.94 1381.42,496.84 1383.90,496.73 1386.38,496.62 1388.85,496.50 1391.33,496.37 1393.80,496.23 1396.28,496.09 1398.75,495.94 1401.22,495.78 1403.70,495.61 1406.17,495.43 1408.65,495.24 1411.12,495.05 1413.60,494.84 1416.08,494.63 1418.55,494.41 1421.03,494.18 1423.50,493.94 1425.97,493.69 1428.45,493.44 1430.92,493.18 1433.40,492.91 1435.88,492.64 1438.35,492.36 1440.83,492.07 1443.30,491.79 1445.78,491.49 1448.25,491.20 1450.72,490.90 1453.20,490.61 1455.67,490.31 1458.15,490.01 1460.62,489.72 1463.10,489.42 1465.58,489.14 1468.05,488.85 1470.53,488.57 1473.00,488.30 1475.47,488.03 1477.95,487.77 1480.42,487.52 1482.90,487.27 1485.38,487.03 1487.85,486.80 1490.33,486.58 1492.80,486.37 1495.28,486.16 1497.75,485.97 1500.22,485.78 1502.70,485.60 1505.17,485.43 1507.65,485.27 1510.12,485.12 1512.60,484.98 1515.08,484.84 1517.55,484.71 1520.03,484.59 1522.50,484.48 1524.97,484.37 1527.45,484.27 1529.92,484.17 1532.40,484.08 1534.88,484.00 1537.35,483.92 1539.83,483.85 1542.30,483.78 1544.78,483.71 1547.25,483.65 1549.72,483.60 1552.20,483.54 1554.67,483.50 1557.15,483.45 1559.62,483.41 1562.10,483.37 1564.58,483.33 1567.05,483.30 1569.53,483.27 1572.00,483.24" fill="none" stroke="#6E0E5E" stroke-width="3.6" stroke-linejoin="round" stroke-linecap="round"/>
<polyline points="1275.00,501.34 1277.47,501.33 1279.95,501.33 1282.42,501.32 1284.90,501.31 1287.38,501.30 1289.85,501.29 1292.33,501.28 1294.80,501.27 1297.28,501.25 1299.75,501.24 1302.22,501.22 1304.70,501.21 1307.17,501.19 1309.65,501.17 1312.12,501.16 1314.60,501.14 1317.08,501.11 1319.55,501.09 1322.03,501.07 1324.50,501.04 1326.97,501.01 1329.45,500.98 1331.92,500.95 1334.40,500.92 1336.88,500.88 1339.35,500.84 1341.83,500.80 1344.30,500.76 1346.78,500.72 1349.25,500.67 1351.72,500.62 1354.20,500.56 1356.67,500.50 1359.15,500.44 1361.62,500.38 1364.10,500.31 1366.58,500.24 1369.05,500.16 1371.53,500.08 1374.00,500.00 1376.47,499.91 1378.95,499.81 1381.42,499.71 1383.90,499.61 1386.38,499.50 1388.85,499.38 1391.33,499.26 1393.80,499.13 1396.28,499.00 1398.75,498.86 1401.22,498.72 1403.70,498.57 1406.17,498.41 1408.65,498.25 1411.12,498.08 1413.60,497.90 1416.08,497.72 1418.55,497.54 1421.03,497.34 1423.50,497.15 1425.97,496.94 1428.45,496.74 1430.92,496.52 1433.40,496.31 1435.88,496.09 1438.35,495.87 1440.83,495.64 1443.30,495.41 1445.78,495.18 1448.25,494.95 1450.72,494.71 1453.20,494.48 1455.67,494.24 1458.15,494.01 1460.62,493.78 1463.10,493.55 1465.58,493.32 1468.05,493.09 1470.53,492.87 1473.00,492.65 1475.47,492.43 1477.95,492.22 1480.42,492.01 1482.90,491.81 1485.38,491.61 1487.85,491.42 1490.33,491.24 1492.80,491.06 1495.28,490.88 1497.75,490.71 1500.22,490.55 1502.70,490.39 1505.17,490.24 1507.65,490.10 1510.12,489.96 1512.60,489.83 1515.08,489.70 1517.55,489.58 1520.03,489.46 1522.50,489.35 1524.97,489.25 1527.45,489.15 1529.92,489.05 1532.40,488.96 1534.88,488.88 1537.35,488.80 1539.83,488.72 1542.30,488.65 1544.78,488.58 1547.25,488.51 1549.72,488.45 1552.20,488.40 1554.67,488.34 1557.15,488.29 1559.62,488.24 1562.10,488.20 1564.58,488.15 1567.05,488.11 1569.53,488.08 1572.00,488.04" fill="none" stroke="#08199A" stroke-width="3.6" stroke-linejoin="round" stroke-linecap="round"/>
<polyline points="1275.00,498.14 1277.47,497.97 1279.95,497.79 1282.42,497.59 1284.90,497.37 1287.38,497.14 1289.85,496.88 1292.33,496.59 1294.80,496.28 1297.28,495.94 1299.75,495.57 1302.22,495.17 1304.70,494.72 1307.17,494.24 1309.65,493.72 1312.12,493.14 1314.60,492.52 1317.08,491.84 1319.55,491.10 1322.03,490.29 1324.50,489.41 1326.97,488.46 1329.45,487.42 1331.92,486.29 1334.40,485.07 1336.88,483.75 1339.35,482.31 1341.83,480.76 1344.30,479.08 1346.78,477.27 1349.25,475.32 1351.72,473.22 1354.20,470.96 1356.67,468.54 1359.15,465.94 1361.62,463.16 1364.10,460.19 1366.58,457.02 1369.05,453.66 1371.53,450.09 1374.00,446.31 1376.47,442.33 1378.95,438.13 1381.42,433.73 1383.90,429.12 1386.38,424.32 1388.85,419.32 1391.33,414.15 1393.80,408.81 1396.28,403.31 1398.75,397.68 1401.22,391.93 1403.70,386.09 1406.17,380.17 1408.65,374.21 1411.12,368.21 1413.60,362.22 1416.08,356.25 1418.55,350.33 1421.03,344.47 1423.50,338.71 1425.97,333.07 1428.45,327.56 1430.92,322.20 1433.40,317.00 1435.88,311.99 1438.35,307.16 1440.83,302.53 1443.30,298.11 1445.78,293.89 1448.25,289.88 1450.72,286.08 1453.20,282.49 1455.67,279.10 1458.15,275.91 1460.62,272.92 1463.10,270.12 1465.58,267.50 1468.05,265.06 1470.53,262.78 1473.00,260.66 1475.47,258.69 1477.95,256.87 1480.42,255.18 1482.90,253.61 1485.38,252.16 1487.85,250.83 1490.33,249.59 1492.80,248.46 1495.28,247.41 1497.75,246.45 1500.22,245.56 1502.70,244.75 1505.17,244.00 1507.65,243.31 1510.12,242.68 1512.60,242.10 1515.08,241.57 1517.55,241.08 1520.03,240.64 1522.50,240.23 1524.97,239.85 1527.45,239.51 1529.92,239.20 1532.40,238.91 1534.88,238.65 1537.35,238.41 1539.83,238.19 1542.30,237.99 1544.78,237.80 1547.25,237.63 1549.72,237.48 1552.20,237.34 1554.67,237.21 1557.15,237.09 1559.62,236.99 1562.10,236.89 1564.58,236.80 1567.05,236.72 1569.53,236.64 1572.00,236.57" fill="none" stroke="#A97A2C" stroke-width="4.0" stroke-linejoin="round" stroke-linecap="round"/>
<path d="M1482.90,481.31V441.33" stroke="#B81A08" stroke-width="2.8" fill="none"/>
<path d="M1474.50,481.31H1491.30" stroke="#B81A08" stroke-width="2.8" fill="none" stroke-linecap="round"/>
<path d="M1474.50,441.33H1491.30" stroke="#B81A08" stroke-width="2.8" fill="none" stroke-linecap="round"/>
<path d="M1512.60,439.16V402.28" stroke="#B81A08" stroke-width="2.8" fill="none"/>
<path d="M1504.20,439.16H1521.00" stroke="#B81A08" stroke-width="2.8" fill="none" stroke-linecap="round"/>
<path d="M1504.20,402.28H1521.00" stroke="#B81A08" stroke-width="2.8" fill="none" stroke-linecap="round"/>
<path d="M1542.30,438.23V394.53" stroke="#B81A08" stroke-width="2.8" fill="none"/>
<path d="M1533.90,438.23H1550.70" stroke="#B81A08" stroke-width="2.8" fill="none" stroke-linecap="round"/>
<path d="M1533.90,394.53H1550.70" stroke="#B81A08" stroke-width="2.8" fill="none" stroke-linecap="round"/>
<path d="M1572.00,387.40V348.97" stroke="#B81A08" stroke-width="2.8" fill="none"/>
<path d="M1563.60,387.40H1580.40" stroke="#B81A08" stroke-width="2.8" fill="none" stroke-linecap="round"/>
<path d="M1563.60,348.97H1580.40" stroke="#B81A08" stroke-width="2.8" fill="none" stroke-linecap="round"/>
<circle cx="1275.00" cy="507.65" r="8.3" fill="#B81A08" />
<circle cx="1304.70" cy="508.89" r="8.3" fill="#B81A08" />
<circle cx="1334.40" cy="501.45" r="8.3" fill="#B81A08" />
<circle cx="1364.10" cy="501.45" r="8.3" fill="#B81A08" />
<circle cx="1393.80" cy="499.90" r="8.3" fill="#B81A08" />
<circle cx="1423.50" cy="498.35" r="8.3" fill="#B81A08" />
<circle cx="1453.20" cy="477.90" r="8.3" fill="#B81A08" />
<circle cx="1482.90" cy="465.81" r="8.3" fill="#B81A08" />
<circle cx="1512.60" cy="421.18" r="8.3" fill="#B81A08" />
<circle cx="1542.30" cy="416.23" r="8.3" fill="#0B36F8" stroke="#5a1a8a" stroke-width="1"/>
<circle cx="1572.00" cy="368.50" r="8.3" fill="#B81A08" />
<path d="M1393.80,507.65V487.51" stroke="#96C65C" stroke-width="2.8" fill="none"/>
<path d="M1385.40,507.65H1402.20" stroke="#96C65C" stroke-width="2.8" fill="none" stroke-linecap="round"/>
<path d="M1385.40,487.51H1402.20" stroke="#96C65C" stroke-width="2.8" fill="none" stroke-linecap="round"/>
<path d="M1423.50,496.80V467.98" stroke="#96C65C" stroke-width="2.8" fill="none"/>
<path d="M1415.10,496.80H1431.90" stroke="#96C65C" stroke-width="2.8" fill="none" stroke-linecap="round"/>
<path d="M1415.10,467.98H1431.90" stroke="#96C65C" stroke-width="2.8" fill="none" stroke-linecap="round"/>
<path d="M1453.20,508.89V458.37" stroke="#96C65C" stroke-width="2.8" fill="none"/>
<path d="M1444.80,508.89H1461.60" stroke="#96C65C" stroke-width="2.8" fill="none" stroke-linecap="round"/>
<path d="M1444.80,458.37H1461.60" stroke="#96C65C" stroke-width="2.8" fill="none" stroke-linecap="round"/>
<path d="M1512.60,507.65V458.68" stroke="#96C65C" stroke-width="2.8" fill="none"/>
<path d="M1504.20,507.65H1521.00" stroke="#96C65C" stroke-width="2.8" fill="none" stroke-linecap="round"/>
<path d="M1504.20,458.68H1521.00" stroke="#96C65C" stroke-width="2.8" fill="none" stroke-linecap="round"/>
<path d="M1572.00,493.08V463.64" stroke="#96C65C" stroke-width="2.8" fill="none"/>
<path d="M1563.60,493.08H1580.40" stroke="#96C65C" stroke-width="2.8" fill="none" stroke-linecap="round"/>
<path d="M1563.60,463.64H1580.40" stroke="#96C65C" stroke-width="2.8" fill="none" stroke-linecap="round"/>
<circle cx="1275.00" cy="494.01" r="8.3" fill="#96C65C" />
<circle cx="1304.70" cy="499.90" r="8.3" fill="#96C65C" />
<circle cx="1334.40" cy="490.61" r="8.3" fill="#96C65C" />
<circle cx="1364.10" cy="493.70" r="8.3" fill="#96C65C" />
<circle cx="1393.80" cy="503.00" r="8.3" fill="#96C65C" />
<circle cx="1423.50" cy="484.72" r="8.3" fill="#96C65C" />
<circle cx="1453.20" cy="481.31" r="8.3" fill="#96C65C" />
<circle cx="1482.90" cy="484.72" r="8.3" fill="#96C65C" />
<circle cx="1512.60" cy="481.31" r="8.3" fill="#96C65C" />
<circle cx="1542.30" cy="490.61" r="8.3" fill="#96C65C" />
<circle cx="1572.00" cy="478.21" r="8.3" fill="#96C65C" />
<path d="M1393.80,507.03V485.96" stroke="#08199A" stroke-width="2.8" fill="none"/>
<path d="M1385.40,507.03H1402.20" stroke="#08199A" stroke-width="2.8" fill="none" stroke-linecap="round"/>
<path d="M1385.40,485.96H1402.20" stroke="#08199A" stroke-width="2.8" fill="none" stroke-linecap="round"/>
<path d="M1542.30,504.24V482.55" stroke="#08199A" stroke-width="2.8" fill="none"/>
<path d="M1533.90,504.24H1550.70" stroke="#08199A" stroke-width="2.8" fill="none" stroke-linecap="round"/>
<path d="M1533.90,482.55H1550.70" stroke="#08199A" stroke-width="2.8" fill="none" stroke-linecap="round"/>
<circle cx="1275.00" cy="499.28" r="8.3" fill="#08199A" />
<circle cx="1304.70" cy="494.01" r="8.3" fill="#08199A" />
<circle cx="1334.40" cy="502.07" r="8.3" fill="#08199A" />
<circle cx="1364.10" cy="502.07" r="8.3" fill="#08199A" />
<circle cx="1393.80" cy="496.80" r="8.3" fill="#08199A" />
<circle cx="1423.50" cy="498.04" r="8.3" fill="#08199A" />
<circle cx="1453.20" cy="489.99" r="8.3" fill="#08199A" />
<circle cx="1482.90" cy="494.01" r="8.3" fill="#08199A" />
<circle cx="1512.60" cy="494.94" r="8.3" fill="#08199A" />
<circle cx="1542.30" cy="492.77" r="8.3" fill="#08199A" />
<circle cx="1572.00" cy="485.96" r="8.3" fill="#08199A" />
<path d="M1393.80,436.06V374.39" stroke="#A97A2C" stroke-width="2.8" fill="none"/>
<path d="M1385.40,436.06H1402.20" stroke="#A97A2C" stroke-width="2.8" fill="none" stroke-linecap="round"/>
<path d="M1385.40,374.39H1402.20" stroke="#A97A2C" stroke-width="2.8" fill="none" stroke-linecap="round"/>
<path d="M1423.50,359.51V316.43" stroke="#A97A2C" stroke-width="2.8" fill="none"/>
<path d="M1415.10,359.51H1431.90" stroke="#A97A2C" stroke-width="2.8" fill="none" stroke-linecap="round"/>
<path d="M1415.10,316.43H1431.90" stroke="#A97A2C" stroke-width="2.8" fill="none" stroke-linecap="round"/>
<path d="M1453.20,318.60V294.74" stroke="#A97A2C" stroke-width="2.8" fill="none"/>
<path d="M1444.80,318.60H1461.60" stroke="#A97A2C" stroke-width="2.8" fill="none" stroke-linecap="round"/>
<path d="M1444.80,294.74H1461.60" stroke="#A97A2C" stroke-width="2.8" fill="none" stroke-linecap="round"/>
<path d="M1482.90,286.68V243.60" stroke="#A97A2C" stroke-width="2.8" fill="none"/>
<path d="M1474.50,286.68H1491.30" stroke="#A97A2C" stroke-width="2.8" fill="none" stroke-linecap="round"/>
<path d="M1474.50,243.60H1491.30" stroke="#A97A2C" stroke-width="2.8" fill="none" stroke-linecap="round"/>
<path d="M1512.60,264.06V225.94" stroke="#A97A2C" stroke-width="2.8" fill="none"/>
<path d="M1504.20,264.06H1521.00" stroke="#A97A2C" stroke-width="2.8" fill="none" stroke-linecap="round"/>
<path d="M1504.20,225.94H1521.00" stroke="#A97A2C" stroke-width="2.8" fill="none" stroke-linecap="round"/>
<path d="M1542.30,243.60V200.21" stroke="#A97A2C" stroke-width="2.8" fill="none"/>
<path d="M1533.90,243.60H1550.70" stroke="#A97A2C" stroke-width="2.8" fill="none" stroke-linecap="round"/>
<path d="M1533.90,200.21H1550.70" stroke="#A97A2C" stroke-width="2.8" fill="none" stroke-linecap="round"/>
<path d="M1572.00,249.80V190.30" stroke="#A97A2C" stroke-width="2.8" fill="none"/>
<path d="M1563.60,249.80H1580.40" stroke="#A97A2C" stroke-width="2.8" fill="none" stroke-linecap="round"/>
<path d="M1563.60,190.30H1580.40" stroke="#A97A2C" stroke-width="2.8" fill="none" stroke-linecap="round"/>
<circle cx="1275.00" cy="499.59" r="7.2" fill="#A97A2C" />
<circle cx="1304.70" cy="500.83" r="7.2" fill="#A97A2C" />
<circle cx="1334.40" cy="496.80" r="7.2" fill="#A97A2C" />
<circle cx="1364.10" cy="463.02" r="7.2" fill="#A97A2C" />
<circle cx="1393.80" cy="405.07" r="7.2" fill="#A97A2C" />
<circle cx="1423.50" cy="337.51" r="7.2" fill="#A97A2C" />
<circle cx="1453.20" cy="306.51" r="7.2" fill="#A97A2C" />
<circle cx="1482.90" cy="265.30" r="7.2" fill="#A97A2C" />
<circle cx="1512.60" cy="245.77" r="7.2" fill="#A97A2C" />
<circle cx="1542.30" cy="221.91" r="7.2" fill="#A97A2C" />
<circle cx="1572.00" cy="220.67" r="7.2" fill="#A97A2C" />
<g stroke="#000" stroke-width="4.6" fill="none" stroke-linecap="butt">
<line x1="120.2" y1="787.2" x2="120.2" y2="1196.6"/>
<line x1="107.9" y1="1194.30" x2="120.2" y2="1194.30"/>
<line x1="107.9" y1="1059.37" x2="120.2" y2="1059.37"/>
<line x1="107.9" y1="924.43" x2="120.2" y2="924.43"/>
<line x1="107.9" y1="789.50" x2="120.2" y2="789.50"/>
<line x1="162.20" y1="1239.3" x2="489.80" y2="1239.3"/>
<line x1="164.50" y1="1239.3" x2="164.50" y2="1252"/>
<line x1="229.10" y1="1239.3" x2="229.10" y2="1252"/>
<line x1="293.70" y1="1239.3" x2="293.70" y2="1252"/>
<line x1="358.30" y1="1239.3" x2="358.30" y2="1252"/>
<line x1="422.90" y1="1239.3" x2="422.90" y2="1252"/>
<line x1="487.50" y1="1239.3" x2="487.50" y2="1252"/>
</g>
<text x="88.30" y="1204.80" font-family="'Liberation Serif', 'Times New Roman', serif" font-weight="bold" font-size="33.00" textLength="17.54" lengthAdjust="spacingAndGlyphs" fill="#000" >0</text>
<text x="70.76" y="1069.87" font-family="'Liberation Serif', 'Times New Roman', serif" font-weight="bold" font-size="33.00" textLength="35.08" lengthAdjust="spacingAndGlyphs" fill="#000" >40</text>
<text x="70.76" y="934.93" font-family="'Liberation Serif', 'Times New Roman', serif" font-weight="bold" font-size="33.00" textLength="35.08" lengthAdjust="spacingAndGlyphs" fill="#000" >80</text>
<text x="53.22" y="800.00" font-family="'Liberation Serif', 'Times New Roman', serif" font-weight="bold" font-size="33.00" textLength="52.62" lengthAdjust="spacingAndGlyphs" fill="#000" >120</text>
<text x="150.15" y="1282.00" font-family="'Liberation Serif', 'Times New Roman', serif" font-weight="bold" font-size="32.40" textLength="28.61" lengthAdjust="spacingAndGlyphs" fill="#000" >-3</text>
<text x="214.90" y="1282.00" font-family="'Liberation Serif', 'Times New Roman', serif" font-weight="bold" font-size="32.40" textLength="28.61" lengthAdjust="spacingAndGlyphs" fill="#000" >-2</text>
<text x="279.66" y="1282.00" font-family="'Liberation Serif', 'Times New Roman', serif" font-weight="bold" font-size="32.40" textLength="28.61" lengthAdjust="spacingAndGlyphs" fill="#000" >-1</text>
<text x="349.71" y="1282.00" font-family="'Liberation Serif', 'Times New Roman', serif" font-weight="bold" font-size="32.40" textLength="17.17" lengthAdjust="spacingAndGlyphs" fill="#000" >0</text>
<text x="413.83" y="1282.00" font-family="'Liberation Serif', 'Times New Roman', serif" font-weight="bold" font-size="32.40" textLength="17.17" lengthAdjust="spacingAndGlyphs" fill="#000" >1</text>
<text x="478.93" y="1282.00" font-family="'Liberation Serif', 'Times New Roman', serif" font-weight="bold" font-size="32.40" textLength="17.17" lengthAdjust="spacingAndGlyphs" fill="#000" >2</text>
<text x="258.38" y="1321.10" font-family="'Liberation Serif', 'Times New Roman', serif" font-weight="bold" font-size="29.50" textLength="133.46" lengthAdjust="spacingAndGlyphs" fill="#000" >Log [18:1]</text>
<text transform="rotate(-90)" x="-1142.97" y="51.80" font-family="'Liberation Serif', 'Times New Roman', serif" font-weight="bold" font-size="30.50" textLength="314.15" lengthAdjust="spacingAndGlyphs">% Max. Wt Response</text>
<text x="265.27" y="814.50" font-family="'Liberation Sans', Arial, Helvetica, sans-serif" font-weight="bold" font-size="51.50" textLength="40.94" lengthAdjust="spacingAndGlyphs" fill="#000" stroke="#000" stroke-width="1.2">iv</text>
<polyline points="164.50,1183.91 167.19,1183.89 169.88,1183.86 172.57,1183.83 175.27,1183.80 177.96,1183.76 180.65,1183.72 183.34,1183.67 186.03,1183.63 188.72,1183.57 191.42,1183.52 194.11,1183.45 196.80,1183.38 199.49,1183.31 202.18,1183.23 204.88,1183.14 207.57,1183.04 210.26,1182.93 212.95,1182.81 215.64,1182.68 218.33,1182.54 221.02,1182.38 223.72,1182.21 226.41,1182.03 229.10,1181.83 231.79,1181.60 234.48,1181.36 237.18,1181.10 239.87,1180.81 242.56,1180.49 245.25,1180.15 247.94,1179.78 250.63,1179.37 253.32,1178.92 256.02,1178.44 258.71,1177.91 261.40,1177.33 264.09,1176.71 266.78,1176.03 269.48,1175.29 272.17,1174.49 274.86,1173.62 277.55,1172.68 280.24,1171.66 282.93,1170.56 285.62,1169.37 288.32,1168.09 291.01,1166.71 293.70,1165.23 296.39,1163.63 299.08,1161.92 301.77,1160.09 304.47,1158.14 307.16,1156.06 309.85,1153.84 312.54,1151.49 315.23,1149.00 317.92,1146.38 320.62,1143.61 323.31,1140.71 326.00,1137.67 328.69,1134.50 331.38,1131.21 334.07,1127.79 336.77,1124.27 339.46,1120.64 342.15,1116.92 344.84,1113.13 347.53,1109.27 350.23,1105.37 352.92,1101.43 355.61,1097.48 358.30,1093.52 360.99,1089.58 363.68,1085.67 366.38,1081.81 369.07,1078.01 371.76,1074.29 374.45,1070.65 377.14,1067.12 379.83,1063.70 382.52,1060.39 385.22,1057.21 387.91,1054.16 390.60,1051.25 393.29,1048.47 395.98,1045.84 398.67,1043.34 401.37,1040.98 404.06,1038.75 406.75,1036.66 409.44,1034.69 412.13,1032.85 414.82,1031.13 417.52,1029.53 420.21,1028.04 422.90,1026.65 425.59,1025.36 428.28,1024.16 430.97,1023.05 433.67,1022.03 436.36,1021.08 439.05,1020.21 441.74,1019.40 444.43,1018.66 447.12,1017.98 449.82,1017.35 452.51,1016.77 455.20,1016.24 457.89,1015.75 460.58,1015.30 463.27,1014.89 465.97,1014.51 468.66,1014.17 471.35,1013.85 474.04,1013.56 476.73,1013.29 479.42,1013.05 482.12,1012.83 484.81,1012.62 487.50,1012.43" fill="none" stroke="#B81A08" stroke-width="3.6" stroke-linejoin="round" stroke-linecap="round"/>
<polyline points="164.50,1182.46 167.19,1182.46 169.88,1182.46 172.57,1182.46 175.27,1182.45 177.96,1182.45 180.65,1182.45 183.34,1182.45 186.03,1182.44 188.72,1182.44 191.42,1182.44 194.11,1182.43 196.80,1182.43 199.49,1182.42 202.18,1182.42 204.88,1182.41 207.57,1182.41 210.26,1182.40 212.95,1182.40 215.64,1182.39 218.33,1182.38 221.02,1182.37 223.72,1182.37 226.41,1182.36 229.10,1182.35 231.79,1182.34 234.48,1182.33 237.18,1182.31 239.87,1182.30 242.56,1182.29 245.25,1182.28 247.94,1182.26 250.63,1182.24 253.32,1182.23 256.02,1182.21 258.71,1182.19 261.40,1182.17 264.09,1182.15 266.78,1182.12 269.48,1182.10 272.17,1182.07 274.86,1182.04 277.55,1182.01 280.24,1181.98 282.93,1181.95 285.62,1181.91 288.32,1181.87 291.01,1181.83 293.70,1181.78 296.39,1181.74 299.08,1181.69 301.77,1181.63 304.47,1181.57 307.16,1181.51 309.85,1181.45 312.54,1181.38 315.23,1181.31 317.92,1181.23 320.62,1181.15 323.31,1181.07 326.00,1180.98 328.69,1180.88 331.38,1180.78 334.07,1180.67 336.77,1180.56 339.46,1180.44 342.15,1180.31 344.84,1180.18 347.53,1180.04 350.23,1179.89 352.92,1179.74 355.61,1179.58 358.30,1179.41 360.99,1179.23 363.68,1179.05 366.38,1178.85 369.07,1178.65 371.76,1178.44 374.45,1178.23 377.14,1178.00 379.83,1177.77 382.52,1177.53 385.22,1177.28 387.91,1177.03 390.60,1176.76 393.29,1176.50 395.98,1176.22 398.67,1175.94 401.37,1175.65 404.06,1175.36 406.75,1175.06 409.44,1174.76 412.13,1174.46 414.82,1174.15 417.52,1173.84 420.21,1173.53 422.90,1173.22 425.59,1172.91 428.28,1172.59 430.97,1172.29 433.67,1171.98 436.36,1171.67 439.05,1171.37 441.74,1171.08 444.43,1170.78 447.12,1170.50 449.82,1170.21 452.51,1169.94 455.20,1169.67 457.89,1169.41 460.58,1169.15 463.27,1168.90 465.97,1168.66 468.66,1168.43 471.35,1168.21 474.04,1167.99 476.73,1167.78 479.42,1167.58 482.12,1167.39 484.81,1167.20 487.50,1167.03" fill="none" stroke="#6E0E5E" stroke-width="3.6" stroke-linejoin="round" stroke-linecap="round"/>
<polyline points="164.50,1189.00 167.19,1188.99 169.88,1188.97 172.57,1188.96 175.27,1188.94 177.96,1188.93 180.65,1188.91 183.34,1188.89 186.03,1188.87 188.72,1188.85 191.42,1188.82 194.11,1188.80 196.80,1188.77 199.49,1188.75 202.18,1188.72 204.88,1188.69 207.57,1188.66 210.26,1188.63 212.95,1188.59 215.64,1188.55 218.33,1188.52 221.02,1188.47 223.72,1188.43 226.41,1188.39 229.10,1188.34 231.79,1188.29 234.48,1188.24 237.18,1188.18 239.87,1188.12 242.56,1188.06 245.25,1188.00 247.94,1187.93 250.63,1187.86 253.32,1187.79 256.02,1187.71 258.71,1187.63 261.40,1187.54 264.09,1187.45 266.78,1187.36 269.48,1187.26 272.17,1187.16 274.86,1187.06 277.55,1186.95 280.24,1186.83 282.93,1186.71 285.62,1186.59 288.32,1186.46 291.01,1186.33 293.70,1186.19 296.39,1186.05 299.08,1185.90 301.77,1185.75 304.47,1185.59 307.16,1185.43 309.85,1185.26 312.54,1185.09 315.23,1184.92 317.92,1184.74 320.62,1184.55 323.31,1184.36 326.00,1184.17 328.69,1183.98 331.38,1183.78 334.07,1183.57 336.77,1183.37 339.46,1183.16 342.15,1182.95 344.84,1182.73 347.53,1182.52 350.23,1182.30 352.92,1182.09 355.61,1181.87 358.30,1181.65 360.99,1181.43 363.68,1181.21 366.38,1181.00 369.07,1180.78 371.76,1180.57 374.45,1180.35 377.14,1180.14 379.83,1179.93 382.52,1179.73 385.22,1179.52 387.91,1179.32 390.60,1179.13 393.29,1178.94 395.98,1178.75 398.67,1178.56 401.37,1178.38 404.06,1178.21 406.75,1178.04 409.44,1177.87 412.13,1177.71 414.82,1177.55 417.52,1177.40 420.21,1177.25 422.90,1177.11 425.59,1176.97 428.28,1176.84 430.97,1176.71 433.67,1176.59 436.36,1176.47 439.05,1176.35 441.74,1176.24 444.43,1176.14 447.12,1176.04 449.82,1175.94 452.51,1175.85 455.20,1175.76 457.89,1175.67 460.58,1175.59 463.27,1175.51 465.97,1175.44 468.66,1175.37 471.35,1175.30 474.04,1175.24 476.73,1175.18 479.42,1175.12 482.12,1175.06 484.81,1175.01 487.50,1174.96" fill="none" stroke="#08199A" stroke-width="3.6" stroke-linejoin="round" stroke-linecap="round"/>
<polyline points="164.50,1189.26 167.19,1189.06 169.88,1188.83 172.57,1188.58 175.27,1188.29 177.96,1187.97 180.65,1187.62 183.34,1187.22 186.03,1186.77 188.72,1186.27 191.42,1185.72 194.11,1185.09 196.80,1184.40 199.49,1183.62 202.18,1182.76 204.88,1181.79 207.57,1180.72 210.26,1179.53 212.95,1178.20 215.64,1176.73 218.33,1175.09 221.02,1173.28 223.72,1171.28 226.41,1169.07 229.10,1166.64 231.79,1163.96 234.48,1161.02 237.18,1157.81 239.87,1154.30 242.56,1150.48 245.25,1146.33 247.94,1141.85 250.63,1137.02 253.32,1131.84 256.02,1126.30 258.71,1120.41 261.40,1114.17 264.09,1107.61 266.78,1100.73 269.48,1093.57 272.17,1086.16 274.86,1078.53 277.55,1070.73 280.24,1062.81 282.93,1054.82 285.62,1046.80 288.32,1038.81 291.01,1030.91 293.70,1023.14 296.39,1015.56 299.08,1008.19 301.77,1001.08 304.47,994.27 307.16,987.77 309.85,981.60 312.54,975.78 315.23,970.32 317.92,965.20 320.62,960.44 323.31,956.03 326.00,951.95 328.69,948.19 331.38,944.74 334.07,941.58 336.77,938.70 339.46,936.07 342.15,933.69 344.84,931.52 347.53,929.56 350.23,927.78 352.92,926.18 355.61,924.74 358.30,923.44 360.99,922.27 363.68,921.22 366.38,920.28 369.07,919.43 371.76,918.67 374.45,917.99 377.14,917.38 379.83,916.84 382.52,916.35 385.22,915.91 387.91,915.53 390.60,915.18 393.29,914.87 395.98,914.59 398.67,914.34 401.37,914.12 404.06,913.92 406.75,913.74 409.44,913.59 412.13,913.45 414.82,913.32 417.52,913.21 420.21,913.11 422.90,913.02 425.59,912.94 428.28,912.87 430.97,912.81 433.67,912.75 436.36,912.70 439.05,912.66 441.74,912.62 444.43,912.58 447.12,912.55 449.82,912.52 452.51,912.50 455.20,912.47 457.89,912.45 460.58,912.44 463.27,912.42 465.97,912.41 468.66,912.39 471.35,912.38 474.04,912.37 476.73,912.36 479.42,912.35 482.12,912.35 484.81,912.34 487.50,912.34" fill="none" stroke="#A97A2C" stroke-width="4.0" stroke-linejoin="round" stroke-linecap="round"/>
<path d="M229.10,1180.81V1170.69" stroke="#B81A08" stroke-width="2.8" fill="none"/>
<path d="M220.70,1170.69H237.50" stroke="#B81A08" stroke-width="2.8" fill="none" stroke-linecap="round"/>
<path d="M261.40,1184.18V1170.69" stroke="#B81A08" stroke-width="2.8" fill="none"/>
<path d="M253.00,1170.69H269.80" stroke="#B81A08" stroke-width="2.8" fill="none" stroke-linecap="round"/>
<path d="M293.70,1163.60V1142.69" stroke="#B81A08" stroke-width="2.8" fill="none"/>
<path d="M285.30,1163.60H302.10" stroke="#B81A08" stroke-width="2.8" fill="none" stroke-linecap="round"/>
<path d="M285.30,1142.69H302.10" stroke="#B81A08" stroke-width="2.8" fill="none" stroke-linecap="round"/>
<path d="M358.30,1114.35V1082.98" stroke="#B81A08" stroke-width="2.8" fill="none"/>
<path d="M349.90,1114.35H366.70" stroke="#B81A08" stroke-width="2.8" fill="none" stroke-linecap="round"/>
<path d="M349.90,1082.98H366.70" stroke="#B81A08" stroke-width="2.8" fill="none" stroke-linecap="round"/>
<path d="M390.60,1034.40V997.63" stroke="#B81A08" stroke-width="2.8" fill="none"/>
<path d="M382.20,1034.40H399.00" stroke="#B81A08" stroke-width="2.8" fill="none" stroke-linecap="round"/>
<path d="M382.20,997.63H399.00" stroke="#B81A08" stroke-width="2.8" fill="none" stroke-linecap="round"/>
<path d="M422.90,1120.09V1077.25" stroke="#B81A08" stroke-width="2.8" fill="none"/>
<path d="M414.50,1120.09H431.30" stroke="#B81A08" stroke-width="2.8" fill="none" stroke-linecap="round"/>
<path d="M414.50,1077.25H431.30" stroke="#B81A08" stroke-width="2.8" fill="none" stroke-linecap="round"/>
<path d="M455.20,1010.45V968.96" stroke="#B81A08" stroke-width="2.8" fill="none"/>
<path d="M446.80,1010.45H463.60" stroke="#B81A08" stroke-width="2.8" fill="none" stroke-linecap="round"/>
<path d="M446.80,968.96H463.60" stroke="#B81A08" stroke-width="2.8" fill="none" stroke-linecap="round"/>
<path d="M487.50,1014.16V984.14" stroke="#B81A08" stroke-width="2.8" fill="none"/>
<path d="M479.10,1014.16H495.90" stroke="#B81A08" stroke-width="2.8" fill="none" stroke-linecap="round"/>
<path d="M479.10,984.14H495.90" stroke="#B81A08" stroke-width="2.8" fill="none" stroke-linecap="round"/>
<circle cx="164.50" cy="1187.55" r="9.7" fill="#B81A08" />
<circle cx="196.80" cy="1185.87" r="9.7" fill="#B81A08" />
<circle cx="229.10" cy="1180.81" r="9.7" fill="#B81A08" />
<circle cx="261.40" cy="1184.18" r="9.7" fill="#B81A08" />
<circle cx="293.70" cy="1153.48" r="9.7" fill="#B81A08" />
<circle cx="326.00" cy="1159.22" r="9.7" fill="#B81A08" />
<circle cx="358.30" cy="1098.16" r="9.7" fill="#B81A08" />
<circle cx="390.60" cy="1016.19" r="9.7" fill="#B81A08" />
<circle cx="422.90" cy="1098.16" r="9.7" fill="#B81A08" />
<circle cx="455.20" cy="988.86" r="9.7" fill="#B81A08" />
<circle cx="487.50" cy="999.32" r="9.7" fill="#B81A08" />
<path d="M422.90,1189.24V1164.95" stroke="#96C65C" stroke-width="2.8" fill="none"/>
<path d="M414.50,1189.24H431.30" stroke="#96C65C" stroke-width="2.8" fill="none" stroke-linecap="round"/>
<path d="M414.50,1164.95H431.30" stroke="#96C65C" stroke-width="2.8" fill="none" stroke-linecap="round"/>
<path d="M455.20,1174.06V1155.17" stroke="#96C65C" stroke-width="2.8" fill="none"/>
<path d="M446.80,1174.06H463.60" stroke="#96C65C" stroke-width="2.8" fill="none" stroke-linecap="round"/>
<path d="M446.80,1155.17H463.60" stroke="#96C65C" stroke-width="2.8" fill="none" stroke-linecap="round"/>
<circle cx="164.50" cy="1173.39" r="9.7" fill="#96C65C" />
<circle cx="196.80" cy="1180.81" r="9.7" fill="#96C65C" />
<circle cx="229.10" cy="1177.43" r="9.7" fill="#96C65C" />
<circle cx="261.40" cy="1173.39" r="9.7" fill="#96C65C" />
<circle cx="293.70" cy="1182.49" r="9.7" fill="#96C65C" />
<circle cx="326.00" cy="1177.43" r="9.7" fill="#96C65C" />
<circle cx="358.30" cy="1183.51" r="9.7" fill="#96C65C" />
<circle cx="390.60" cy="1176.42" r="9.7" fill="#96C65C" />
<circle cx="422.90" cy="1177.43" r="9.7" fill="#96C65C" />
<circle cx="455.20" cy="1163.60" r="9.7" fill="#96C65C" />
<circle cx="487.50" cy="1169.67" r="9.7" fill="#96C65C" />
<circle cx="164.50" cy="1183.51" r="9.7" fill="#08199A" />
<circle cx="196.80" cy="1189.24" r="9.7" fill="#08199A" />
<circle cx="229.10" cy="1189.24" r="9.7" fill="#08199A" />
<circle cx="261.40" cy="1191.94" r="9.7" fill="#08199A" />
<circle cx="293.70" cy="1187.22" r="9.7" fill="#08199A" />
<circle cx="326.00" cy="1182.16" r="9.7" fill="#08199A" />
<circle cx="358.30" cy="1167.99" r="9.7" fill="#08199A" />
<circle cx="390.60" cy="1183.51" r="9.7" fill="#08199A" />
<circle cx="422.90" cy="1176.42" r="9.7" fill="#08199A" />
<circle cx="455.20" cy="1183.51" r="9.7" fill="#08199A" />
<circle cx="487.50" cy="1163.60" r="9.7" fill="#08199A" />
<path d="M261.40,1153.48V1088.04" stroke="#A97A2C" stroke-width="2.8" fill="none"/>
<path d="M253.00,1153.48H269.80" stroke="#A97A2C" stroke-width="2.8" fill="none" stroke-linecap="round"/>
<path d="M253.00,1088.04H269.80" stroke="#A97A2C" stroke-width="2.8" fill="none" stroke-linecap="round"/>
<path d="M293.70,1074.21V958.50" stroke="#A97A2C" stroke-width="2.8" fill="none"/>
<path d="M285.30,1074.21H302.10" stroke="#A97A2C" stroke-width="2.8" fill="none" stroke-linecap="round"/>
<path d="M285.30,958.50H302.10" stroke="#A97A2C" stroke-width="2.8" fill="none" stroke-linecap="round"/>
<path d="M326.00,1003.03V916.67" stroke="#A97A2C" stroke-width="2.8" fill="none"/>
<path d="M317.60,1003.03H334.40" stroke="#A97A2C" stroke-width="2.8" fill="none" stroke-linecap="round"/>
<path d="M317.60,916.67H334.40" stroke="#A97A2C" stroke-width="2.8" fill="none" stroke-linecap="round"/>
<path d="M358.30,976.38V884.29" stroke="#A97A2C" stroke-width="2.8" fill="none"/>
<path d="M349.90,976.38H366.70" stroke="#A97A2C" stroke-width="2.8" fill="none" stroke-linecap="round"/>
<path d="M349.90,884.29H366.70" stroke="#A97A2C" stroke-width="2.8" fill="none" stroke-linecap="round"/>
<path d="M390.60,980.43V939.95" stroke="#A97A2C" stroke-width="2.8" fill="none"/>
<path d="M382.20,980.43H399.00" stroke="#A97A2C" stroke-width="2.8" fill="none" stroke-linecap="round"/>
<path d="M382.20,939.95H399.00" stroke="#A97A2C" stroke-width="2.8" fill="none" stroke-linecap="round"/>
<path d="M422.90,927.81V884.97" stroke="#A97A2C" stroke-width="2.8" fill="none"/>
<path d="M414.50,927.81H431.30" stroke="#A97A2C" stroke-width="2.8" fill="none" stroke-linecap="round"/>
<path d="M414.50,884.97H431.30" stroke="#A97A2C" stroke-width="2.8" fill="none" stroke-linecap="round"/>
<path d="M455.20,881.59V861.69" stroke="#A97A2C" stroke-width="2.8" fill="none"/>
<path d="M446.80,881.59H463.60" stroke="#A97A2C" stroke-width="2.8" fill="none" stroke-linecap="round"/>
<path d="M446.80,861.69H463.60" stroke="#A97A2C" stroke-width="2.8" fill="none" stroke-linecap="round"/>
<path d="M487.50,926.12V898.46" stroke="#A97A2C" stroke-width="2.8" fill="none"/>
<path d="M479.10,926.12H495.90" stroke="#A97A2C" stroke-width="2.8" fill="none" stroke-linecap="round"/>
<path d="M479.10,898.46H495.90" stroke="#A97A2C" stroke-width="2.8" fill="none" stroke-linecap="round"/>
<circle cx="164.50" cy="1191.26" r="7.9" fill="#A97A2C" />
<circle cx="196.80" cy="1179.12" r="7.9" fill="#A97A2C" />
<circle cx="229.10" cy="1173.39" r="7.9" fill="#A97A2C" />
<circle cx="261.40" cy="1120.76" r="7.9" fill="#A97A2C" />
<circle cx="293.70" cy="1016.19" r="7.9" fill="#A97A2C" />
<circle cx="326.00" cy="959.18" r="7.9" fill="#A97A2C" />
<circle cx="358.30" cy="929.83" r="7.9" fill="#A97A2C" />
<circle cx="390.60" cy="959.85" r="7.9" fill="#A97A2C" />
<circle cx="422.90" cy="907.23" r="7.9" fill="#A97A2C" />
<circle cx="455.20" cy="871.47" r="7.9" fill="#A97A2C" />
<circle cx="487.50" cy="912.96" r="7.9" fill="#A97A2C" />
<g stroke="#000" stroke-width="4.6" fill="none" stroke-linecap="butt">
<line x1="629.5" y1="829.5" x2="629.5" y2="1208.3"/>
<line x1="618.1" y1="1206.00" x2="629.5" y2="1206.00"/>
<line x1="618.1" y1="1081.27" x2="629.5" y2="1081.27"/>
<line x1="618.1" y1="956.53" x2="629.5" y2="956.53"/>
<line x1="618.1" y1="831.80" x2="629.5" y2="831.80"/>
<line x1="668.40" y1="1246.9" x2="970.50" y2="1246.9"/>
<line x1="670.70" y1="1246.9" x2="670.70" y2="1258.3"/>
<line x1="730.20" y1="1246.9" x2="730.20" y2="1258.3"/>
<line x1="789.70" y1="1246.9" x2="789.70" y2="1258.3"/>
<line x1="849.20" y1="1246.9" x2="849.20" y2="1258.3"/>
<line x1="908.70" y1="1246.9" x2="908.70" y2="1258.3"/>
<line x1="968.20" y1="1246.9" x2="968.20" y2="1258.3"/>
</g>
<text x="600.33" y="1215.70" font-family="'Liberation Serif', 'Times New Roman', serif" font-weight="bold" font-size="30.70" textLength="16.42" lengthAdjust="spacingAndGlyphs" fill="#000" >0</text>
<text x="583.90" y="1090.97" font-family="'Liberation Serif', 'Times New Roman', serif" font-weight="bold" font-size="30.70" textLength="32.85" lengthAdjust="spacingAndGlyphs" fill="#000" >40</text>
<text x="583.90" y="966.23" font-family="'Liberation Serif', 'Times New Roman', serif" font-weight="bold" font-size="30.70" textLength="32.85" lengthAdjust="spacingAndGlyphs" fill="#000" >80</text>
<text x="567.48" y="841.50" font-family="'Liberation Serif', 'Times New Roman', serif" font-weight="bold" font-size="30.70" textLength="49.27" lengthAdjust="spacingAndGlyphs" fill="#000" >120</text>
<text x="657.37" y="1286.70" font-family="'Liberation Serif', 'Times New Roman', serif" font-weight="bold" font-size="30.40" textLength="26.59" lengthAdjust="spacingAndGlyphs" fill="#000" >-3</text>
<text x="717.01" y="1286.70" font-family="'Liberation Serif', 'Times New Roman', serif" font-weight="bold" font-size="30.40" textLength="26.59" lengthAdjust="spacingAndGlyphs" fill="#000" >-2</text>
<text x="776.65" y="1286.70" font-family="'Liberation Serif', 'Times New Roman', serif" font-weight="bold" font-size="30.40" textLength="26.59" lengthAdjust="spacingAndGlyphs" fill="#000" >-1</text>
<text x="841.22" y="1286.70" font-family="'Liberation Serif', 'Times New Roman', serif" font-weight="bold" font-size="30.40" textLength="15.96" lengthAdjust="spacingAndGlyphs" fill="#000" >0</text>
<text x="900.27" y="1286.70" font-family="'Liberation Serif', 'Times New Roman', serif" font-weight="bold" font-size="30.40" textLength="15.96" lengthAdjust="spacingAndGlyphs" fill="#000" >1</text>
<text x="960.24" y="1286.70" font-family="'Liberation Serif', 'Times New Roman', serif" font-weight="bold" font-size="30.40" textLength="15.96" lengthAdjust="spacingAndGlyphs" fill="#000" >2</text>
<text x="756.62" y="1322.10" font-family="'Liberation Serif', 'Times New Roman', serif" font-weight="bold" font-size="27.80" textLength="123.66" lengthAdjust="spacingAndGlyphs" fill="#000" >Log [20:4]</text>
<text transform="rotate(-90)" x="-1152.12" y="565.30" font-family="'Liberation Serif', 'Times New Roman', serif" font-weight="bold" font-size="27.50" textLength="282.51" lengthAdjust="spacingAndGlyphs">% Max. Wt Response</text>
<text x="763.52" y="815.50" font-family="'Liberation Sans', Arial, Helvetica, sans-serif" font-weight="bold" font-size="51.50" textLength="25.38" lengthAdjust="spacingAndGlyphs" fill="#000" stroke="#000" stroke-width="1.2">v</text>
<polyline points="670.70,1191.81 673.18,1191.80 675.66,1191.78 678.14,1191.76 680.62,1191.74 683.10,1191.72 685.58,1191.70 688.05,1191.67 690.53,1191.64 693.01,1191.60 695.49,1191.57 697.97,1191.53 700.45,1191.48 702.93,1191.44 705.41,1191.38 707.89,1191.32 710.37,1191.26 712.85,1191.19 715.33,1191.11 717.80,1191.02 720.28,1190.93 722.76,1190.83 725.24,1190.71 727.72,1190.59 730.20,1190.45 732.68,1190.30 735.16,1190.13 737.64,1189.95 740.12,1189.75 742.60,1189.53 745.08,1189.29 747.55,1189.02 750.03,1188.73 752.51,1188.41 754.99,1188.06 757.47,1187.68 759.95,1187.26 762.43,1186.80 764.91,1186.30 767.39,1185.75 769.87,1185.15 772.35,1184.50 774.83,1183.78 777.30,1183.00 779.78,1182.16 782.26,1181.24 784.74,1180.23 787.22,1179.15 789.70,1177.97 792.18,1176.69 794.66,1175.31 797.14,1173.83 799.62,1172.22 802.10,1170.50 804.58,1168.65 807.05,1166.68 809.53,1164.56 812.01,1162.31 814.49,1159.92 816.97,1157.39 819.45,1154.72 821.93,1151.90 824.41,1148.95 826.89,1145.86 829.37,1142.64 831.85,1139.31 834.33,1135.86 836.80,1132.31 839.28,1128.67 841.76,1124.95 844.24,1121.18 846.72,1117.36 849.20,1113.52 851.68,1109.67 854.16,1105.83 856.64,1102.01 859.12,1098.24 861.60,1094.53 864.08,1090.89 866.55,1087.34 869.03,1083.90 871.51,1080.57 873.99,1077.35 876.47,1074.27 878.95,1071.32 881.43,1068.51 883.91,1065.84 886.39,1063.32 888.87,1060.93 891.35,1058.69 893.83,1056.58 896.30,1054.61 898.78,1052.77 901.26,1051.05 903.74,1049.45 906.22,1047.97 908.70,1046.60 911.18,1045.32 913.66,1044.15 916.14,1043.07 918.62,1042.07 921.10,1041.15 923.58,1040.30 926.05,1039.53 928.53,1038.82 931.01,1038.16 933.49,1037.57 935.97,1037.02 938.45,1036.52 940.93,1036.06 943.41,1035.65 945.89,1035.26 948.37,1034.92 950.85,1034.60 953.33,1034.31 955.80,1034.04 958.28,1033.80 960.76,1033.58 963.24,1033.39 965.72,1033.20 968.20,1033.04" fill="none" stroke="#B81A08" stroke-width="3.6" stroke-linejoin="round" stroke-linecap="round"/>
<polyline points="670.70,1191.87 673.18,1191.87 675.66,1191.86 678.14,1191.86 680.62,1191.85 683.10,1191.85 685.58,1191.84 688.05,1191.84 690.53,1191.83 693.01,1191.82 695.49,1191.82 697.97,1191.81 700.45,1191.80 702.93,1191.79 705.41,1191.79 707.89,1191.78 710.37,1191.77 712.85,1191.76 715.33,1191.75 717.80,1191.74 720.28,1191.73 722.76,1191.72 725.24,1191.71 727.72,1191.70 730.20,1191.68 732.68,1191.67 735.16,1191.66 737.64,1191.64 740.12,1191.63 742.60,1191.62 745.08,1191.60 747.55,1191.58 750.03,1191.57 752.51,1191.55 754.99,1191.53 757.47,1191.52 759.95,1191.50 762.43,1191.48 764.91,1191.46 767.39,1191.44 769.87,1191.41 772.35,1191.39 774.83,1191.37 777.30,1191.35 779.78,1191.32 782.26,1191.30 784.74,1191.27 787.22,1191.25 789.70,1191.22 792.18,1191.19 794.66,1191.16 797.14,1191.13 799.62,1191.10 802.10,1191.07 804.58,1191.04 807.05,1191.01 809.53,1190.98 812.01,1190.95 814.49,1190.91 816.97,1190.88 819.45,1190.85 821.93,1190.81 824.41,1190.78 826.89,1190.74 829.37,1190.70 831.85,1190.67 834.33,1190.63 836.80,1190.59 839.28,1190.56 841.76,1190.52 844.24,1190.48 846.72,1190.45 849.20,1190.41 851.68,1190.37 854.16,1190.33 856.64,1190.30 859.12,1190.26 861.60,1190.22 864.08,1190.19 866.55,1190.15 869.03,1190.11 871.51,1190.08 873.99,1190.04 876.47,1190.01 878.95,1189.97 881.43,1189.94 883.91,1189.90 886.39,1189.87 888.87,1189.84 891.35,1189.81 893.83,1189.77 896.30,1189.74 898.78,1189.71 901.26,1189.68 903.74,1189.65 906.22,1189.63 908.70,1189.60 911.18,1189.57 913.66,1189.55 916.14,1189.52 918.62,1189.49 921.10,1189.47 923.58,1189.45 926.05,1189.42 928.53,1189.40 931.01,1189.38 933.49,1189.36 935.97,1189.34 938.45,1189.32 940.93,1189.30 943.41,1189.28 945.89,1189.27 948.37,1189.25 950.85,1189.23 953.33,1189.22 955.80,1189.20 958.28,1189.19 960.76,1189.17 963.24,1189.16 965.72,1189.15 968.20,1189.13" fill="none" stroke="#6E0E5E" stroke-width="3.6" stroke-linejoin="round" stroke-linecap="round"/>
<polyline points="670.70,1202.88 673.18,1202.87 675.66,1202.87 678.14,1202.87 680.62,1202.87 683.10,1202.87 685.58,1202.87 688.05,1202.87 690.53,1202.87 693.01,1202.86 695.49,1202.86 697.97,1202.86 700.45,1202.86 702.93,1202.86 705.41,1202.85 707.89,1202.85 710.37,1202.84 712.85,1202.84 715.33,1202.84 717.80,1202.83 720.28,1202.82 722.76,1202.82 725.24,1202.81 727.72,1202.80 730.20,1202.79 732.68,1202.78 735.16,1202.77 737.64,1202.76 740.12,1202.74 742.60,1202.73 745.08,1202.71 747.55,1202.69 750.03,1202.66 752.51,1202.64 754.99,1202.61 757.47,1202.58 759.95,1202.54 762.43,1202.50 764.91,1202.46 767.39,1202.41 769.87,1202.35 772.35,1202.29 774.83,1202.22 777.30,1202.15 779.78,1202.06 782.26,1201.97 784.74,1201.86 787.22,1201.74 789.70,1201.61 792.18,1201.46 794.66,1201.30 797.14,1201.12 799.62,1200.92 802.10,1200.70 804.58,1200.45 807.05,1200.18 809.53,1199.88 812.01,1199.54 814.49,1199.17 816.97,1198.77 819.45,1198.32 821.93,1197.83 824.41,1197.29 826.89,1196.70 829.37,1196.06 831.85,1195.36 834.33,1194.59 836.80,1193.77 839.28,1192.88 841.76,1191.92 844.24,1190.89 846.72,1189.79 849.20,1188.62 851.68,1187.38 854.16,1186.07 856.64,1184.70 859.12,1183.27 861.60,1181.78 864.08,1180.24 866.55,1178.67 869.03,1177.06 871.51,1175.43 873.99,1173.78 876.47,1172.14 878.95,1170.50 881.43,1168.87 883.91,1167.27 886.39,1165.71 888.87,1164.19 891.35,1162.73 893.83,1161.32 896.30,1159.97 898.78,1158.68 901.26,1157.47 903.74,1156.32 906.22,1155.25 908.70,1154.24 911.18,1153.31 913.66,1152.44 916.14,1151.64 918.62,1150.90 921.10,1150.22 923.58,1149.60 926.05,1149.02 928.53,1148.50 931.01,1148.03 933.49,1147.60 935.97,1147.20 938.45,1146.85 940.93,1146.53 943.41,1146.24 945.89,1145.97 948.37,1145.73 950.85,1145.52 953.33,1145.33 955.80,1145.15 958.28,1145.00 960.76,1144.86 963.24,1144.73 965.72,1144.62 968.20,1144.51" fill="none" stroke="#08199A" stroke-width="3.6" stroke-linejoin="round" stroke-linecap="round"/>
<polyline points="670.70,1194.19 673.18,1193.72 675.66,1193.22 678.14,1192.67 680.62,1192.08 683.10,1191.44 685.58,1190.75 688.05,1190.00 690.53,1189.20 693.01,1188.33 695.49,1187.40 697.97,1186.39 700.45,1185.31 702.93,1184.15 705.41,1182.90 707.89,1181.55 710.37,1180.11 712.85,1178.56 715.33,1176.91 717.80,1175.14 720.28,1173.25 722.76,1171.23 725.24,1169.08 727.72,1166.79 730.20,1164.36 732.68,1161.78 735.16,1159.05 737.64,1156.16 740.12,1153.12 742.60,1149.91 745.08,1146.55 747.55,1143.02 750.03,1139.33 752.51,1135.48 754.99,1131.47 757.47,1127.31 759.95,1123.01 762.43,1118.57 764.91,1114.00 767.39,1109.32 769.87,1104.53 772.35,1099.65 774.83,1094.68 777.30,1089.66 779.78,1084.59 782.26,1079.49 784.74,1074.38 787.22,1069.27 789.70,1064.18 792.18,1059.14 794.66,1054.15 797.14,1049.23 799.62,1044.40 802.10,1039.66 804.58,1035.04 807.05,1030.54 809.53,1026.18 812.01,1021.96 814.49,1017.89 816.97,1013.97 819.45,1010.21 821.93,1006.61 824.41,1003.17 826.89,999.89 829.37,996.78 831.85,993.82 834.33,991.02 836.80,988.38 839.28,985.88 841.76,983.53 844.24,981.32 846.72,979.24 849.20,977.30 851.68,975.48 854.16,973.77 856.64,972.18 859.12,970.69 861.60,969.30 864.08,968.01 866.55,966.81 869.03,965.69 871.51,964.65 873.99,963.69 876.47,962.79 878.95,961.96 881.43,961.19 883.91,960.48 886.39,959.82 888.87,959.20 891.35,958.64 893.83,958.11 896.30,957.63 898.78,957.18 901.26,956.77 903.74,956.39 906.22,956.03 908.70,955.71 911.18,955.41 913.66,955.13 916.14,954.87 918.62,954.64 921.10,954.42 923.58,954.22 926.05,954.03 928.53,953.86 931.01,953.70 933.49,953.56 935.97,953.42 938.45,953.30 940.93,953.19 943.41,953.08 945.89,952.99 948.37,952.90 950.85,952.81 953.33,952.74 955.80,952.67 958.28,952.61 960.76,952.55 963.24,952.49 965.72,952.44 968.20,952.39" fill="none" stroke="#A97A2C" stroke-width="4.0" stroke-linejoin="round" stroke-linecap="round"/>
<path d="M819.45,1179.49V1163.59" stroke="#B81A08" stroke-width="2.8" fill="none"/>
<path d="M811.05,1179.49H827.85" stroke="#B81A08" stroke-width="2.8" fill="none" stroke-linecap="round"/>
<path d="M811.05,1163.59H827.85" stroke="#B81A08" stroke-width="2.8" fill="none" stroke-linecap="round"/>
<path d="M878.95,1063.80V1023.89" stroke="#B81A08" stroke-width="2.8" fill="none"/>
<path d="M870.55,1063.80H887.35" stroke="#B81A08" stroke-width="2.8" fill="none" stroke-linecap="round"/>
<path d="M870.55,1023.89H887.35" stroke="#B81A08" stroke-width="2.8" fill="none" stroke-linecap="round"/>
<path d="M908.70,1045.41V984.91" stroke="#B81A08" stroke-width="2.8" fill="none"/>
<path d="M900.30,1045.41H917.10" stroke="#B81A08" stroke-width="2.8" fill="none" stroke-linecap="round"/>
<path d="M900.30,984.91H917.10" stroke="#B81A08" stroke-width="2.8" fill="none" stroke-linecap="round"/>
<path d="M938.45,1066.30V1024.20" stroke="#B81A08" stroke-width="2.8" fill="none"/>
<path d="M930.05,1066.30H946.85" stroke="#B81A08" stroke-width="2.8" fill="none" stroke-linecap="round"/>
<path d="M930.05,1024.20H946.85" stroke="#B81A08" stroke-width="2.8" fill="none" stroke-linecap="round"/>
<path d="M968.20,1088.75V1027.01" stroke="#B81A08" stroke-width="2.8" fill="none"/>
<path d="M959.80,1088.75H976.60" stroke="#B81A08" stroke-width="2.8" fill="none" stroke-linecap="round"/>
<path d="M959.80,1027.01H976.60" stroke="#B81A08" stroke-width="2.8" fill="none" stroke-linecap="round"/>
<circle cx="670.70" cy="1191.97" r="8.9" fill="#B81A08" />
<circle cx="700.45" cy="1181.99" r="8.9" fill="#B81A08" />
<circle cx="730.20" cy="1187.29" r="8.9" fill="#B81A08" />
<circle cx="759.95" cy="1179.18" r="8.9" fill="#B81A08" />
<circle cx="789.70" cy="1177.93" r="8.9" fill="#B81A08" />
<circle cx="819.45" cy="1171.39" r="8.9" fill="#B81A08" />
<circle cx="849.20" cy="1123.68" r="8.9" fill="#B81A08" />
<circle cx="878.95" cy="1044.16" r="8.9" fill="#B81A08" />
<circle cx="908.70" cy="1015.16" r="8.9" fill="#B81A08" />
<circle cx="938.45" cy="1044.78" r="8.9" fill="#B81A08" />
<circle cx="968.20" cy="1057.88" r="8.9" fill="#B81A08" />
<path d="M908.70,1205.38V1143.95" stroke="#96C65C" stroke-width="2.8" fill="none"/>
<path d="M900.30,1205.38H917.10" stroke="#96C65C" stroke-width="2.8" fill="none" stroke-linecap="round"/>
<path d="M900.30,1143.95H917.10" stroke="#96C65C" stroke-width="2.8" fill="none" stroke-linecap="round"/>
<circle cx="670.70" cy="1189.78" r="8.9" fill="#96C65C" />
<circle cx="700.45" cy="1191.97" r="8.9" fill="#96C65C" />
<circle cx="730.20" cy="1187.29" r="8.9" fill="#96C65C" />
<circle cx="759.95" cy="1189.78" r="8.9" fill="#96C65C" />
<circle cx="789.70" cy="1191.97" r="8.9" fill="#96C65C" />
<circle cx="819.45" cy="1187.60" r="8.9" fill="#96C65C" />
<circle cx="849.20" cy="1190.41" r="8.9" fill="#96C65C" />
<circle cx="878.95" cy="1186.04" r="8.9" fill="#96C65C" />
<circle cx="908.70" cy="1173.88" r="8.9" fill="#96C65C" />
<circle cx="938.45" cy="1187.60" r="8.9" fill="#96C65C" />
<circle cx="968.20" cy="1189.78" r="8.9" fill="#96C65C" />
<path d="M878.95,1176.69V1160.47" stroke="#08199A" stroke-width="2.8" fill="none"/>
<path d="M870.55,1176.69H887.35" stroke="#08199A" stroke-width="2.8" fill="none" stroke-linecap="round"/>
<path d="M870.55,1160.47H887.35" stroke="#08199A" stroke-width="2.8" fill="none" stroke-linecap="round"/>
<path d="M968.20,1172.01V1129.29" stroke="#08199A" stroke-width="2.8" fill="none"/>
<path d="M959.80,1172.01H976.60" stroke="#08199A" stroke-width="2.8" fill="none" stroke-linecap="round"/>
<path d="M959.80,1129.29H976.60" stroke="#08199A" stroke-width="2.8" fill="none" stroke-linecap="round"/>
<circle cx="670.70" cy="1204.13" r="8.9" fill="#08199A" />
<circle cx="700.45" cy="1202.26" r="8.9" fill="#08199A" />
<circle cx="730.20" cy="1201.63" r="8.9" fill="#08199A" />
<circle cx="759.95" cy="1201.63" r="8.9" fill="#08199A" />
<circle cx="789.70" cy="1202.26" r="8.9" fill="#08199A" />
<circle cx="819.45" cy="1197.58" r="8.9" fill="#08199A" />
<circle cx="849.20" cy="1184.48" r="8.9" fill="#08199A" />
<circle cx="878.95" cy="1167.33" r="8.9" fill="#08199A" />
<circle cx="908.70" cy="1152.99" r="8.9" fill="#08199A" />
<circle cx="938.45" cy="1138.64" r="8.9" fill="#08199A" />
<circle cx="968.20" cy="1150.49" r="8.9" fill="#08199A" />
<path d="M730.20,1196.64V1143.01" stroke="#A97A2C" stroke-width="2.8" fill="none"/>
<path d="M721.80,1196.64H738.60" stroke="#A97A2C" stroke-width="2.8" fill="none" stroke-linecap="round"/>
<path d="M721.80,1143.01H738.60" stroke="#A97A2C" stroke-width="2.8" fill="none" stroke-linecap="round"/>
<path d="M759.95,1170.14V1095.61" stroke="#A97A2C" stroke-width="2.8" fill="none"/>
<path d="M751.55,1170.14H768.35" stroke="#A97A2C" stroke-width="2.8" fill="none" stroke-linecap="round"/>
<path d="M751.55,1095.61H768.35" stroke="#A97A2C" stroke-width="2.8" fill="none" stroke-linecap="round"/>
<path d="M789.70,1085.32V1036.05" stroke="#A97A2C" stroke-width="2.8" fill="none"/>
<path d="M781.30,1085.32H798.10" stroke="#A97A2C" stroke-width="2.8" fill="none" stroke-linecap="round"/>
<path d="M781.30,1036.05H798.10" stroke="#A97A2C" stroke-width="2.8" fill="none" stroke-linecap="round"/>
<path d="M819.45,1022.95V980.86" stroke="#A97A2C" stroke-width="2.8" fill="none"/>
<path d="M811.05,1022.95H827.85" stroke="#A97A2C" stroke-width="2.8" fill="none" stroke-linecap="round"/>
<path d="M811.05,980.86H827.85" stroke="#A97A2C" stroke-width="2.8" fill="none" stroke-linecap="round"/>
<path d="M849.20,999.25V950.30" stroke="#A97A2C" stroke-width="2.8" fill="none"/>
<path d="M840.80,999.25H857.60" stroke="#A97A2C" stroke-width="2.8" fill="none" stroke-linecap="round"/>
<path d="M840.80,950.30H857.60" stroke="#A97A2C" stroke-width="2.8" fill="none" stroke-linecap="round"/>
<path d="M878.95,985.53V917.87" stroke="#A97A2C" stroke-width="2.8" fill="none"/>
<path d="M870.55,985.53H887.35" stroke="#A97A2C" stroke-width="2.8" fill="none" stroke-linecap="round"/>
<path d="M870.55,917.87H887.35" stroke="#A97A2C" stroke-width="2.8" fill="none" stroke-linecap="round"/>
<path d="M908.70,965.26V884.50" stroke="#A97A2C" stroke-width="2.8" fill="none"/>
<path d="M900.30,965.26H917.10" stroke="#A97A2C" stroke-width="2.8" fill="none" stroke-linecap="round"/>
<path d="M900.30,884.50H917.10" stroke="#A97A2C" stroke-width="2.8" fill="none" stroke-linecap="round"/>
<path d="M938.45,937.20V895.73" stroke="#A97A2C" stroke-width="2.8" fill="none"/>
<path d="M930.05,937.20H946.85" stroke="#A97A2C" stroke-width="2.8" fill="none" stroke-linecap="round"/>
<path d="M930.05,895.73H946.85" stroke="#A97A2C" stroke-width="2.8" fill="none" stroke-linecap="round"/>
<path d="M968.20,975.56V929.09" stroke="#A97A2C" stroke-width="2.8" fill="none"/>
<path d="M959.80,975.56H976.60" stroke="#A97A2C" stroke-width="2.8" fill="none" stroke-linecap="round"/>
<path d="M959.80,929.09H976.60" stroke="#A97A2C" stroke-width="2.8" fill="none" stroke-linecap="round"/>
<circle cx="670.70" cy="1199.14" r="7.4" fill="#A97A2C" />
<circle cx="700.45" cy="1192.90" r="7.4" fill="#A97A2C" />
<circle cx="730.20" cy="1170.14" r="7.4" fill="#A97A2C" />
<circle cx="759.95" cy="1132.72" r="7.4" fill="#A97A2C" />
<circle cx="789.70" cy="1060.69" r="7.4" fill="#A97A2C" />
<circle cx="819.45" cy="1002.06" r="7.4" fill="#A97A2C" />
<circle cx="849.20" cy="974.00" r="7.4" fill="#A97A2C" />
<circle cx="878.95" cy="952.17" r="7.4" fill="#A97A2C" />
<circle cx="908.70" cy="925.04" r="7.4" fill="#000" />
<circle cx="938.45" cy="916.62" r="7.4" fill="#000" />
<circle cx="968.20" cy="952.79" r="7.4" fill="#A97A2C" />
<g stroke="#000" stroke-width="4.3" fill="none" stroke-linecap="butt">
<line x1="1140.7" y1="842.85" x2="1140.7" y2="1199.45"/>
<line x1="1130.2" y1="1197.30" x2="1140.7" y2="1197.30"/>
<line x1="1130.2" y1="1079.87" x2="1140.7" y2="1079.87"/>
<line x1="1130.2" y1="962.43" x2="1140.7" y2="962.43"/>
<line x1="1130.2" y1="845.00" x2="1140.7" y2="845.00"/>
<line x1="1177.05" y1="1235.2" x2="1461.85" y2="1235.2"/>
<line x1="1179.20" y1="1235.2" x2="1179.20" y2="1245.5"/>
<line x1="1235.30" y1="1235.2" x2="1235.30" y2="1245.5"/>
<line x1="1291.40" y1="1235.2" x2="1291.40" y2="1245.5"/>
<line x1="1347.50" y1="1235.2" x2="1347.50" y2="1245.5"/>
<line x1="1403.60" y1="1235.2" x2="1403.60" y2="1245.5"/>
<line x1="1459.70" y1="1235.2" x2="1459.70" y2="1245.5"/>
</g>
<text x="1113.41" y="1207.20" font-family="'Liberation Serif', 'Times New Roman', serif" font-weight="bold" font-size="29.60" textLength="15.69" lengthAdjust="spacingAndGlyphs" fill="#000" >0</text>
<text x="1097.72" y="1089.77" font-family="'Liberation Serif', 'Times New Roman', serif" font-weight="bold" font-size="29.60" textLength="31.38" lengthAdjust="spacingAndGlyphs" fill="#000" >40</text>
<text x="1097.72" y="972.33" font-family="'Liberation Serif', 'Times New Roman', serif" font-weight="bold" font-size="29.60" textLength="31.38" lengthAdjust="spacingAndGlyphs" fill="#000" >80</text>
<text x="1082.03" y="854.90" font-family="'Liberation Serif', 'Times New Roman', serif" font-weight="bold" font-size="29.60" textLength="47.06" lengthAdjust="spacingAndGlyphs" fill="#000" >120</text>
<text x="1166.16" y="1272.80" font-family="'Liberation Serif', 'Times New Roman', serif" font-weight="bold" font-size="28.90" textLength="26.00" lengthAdjust="spacingAndGlyphs" fill="#000" >-3</text>
<text x="1222.40" y="1272.80" font-family="'Liberation Serif', 'Times New Roman', serif" font-weight="bold" font-size="28.90" textLength="26.00" lengthAdjust="spacingAndGlyphs" fill="#000" >-2</text>
<text x="1278.64" y="1272.80" font-family="'Liberation Serif', 'Times New Roman', serif" font-weight="bold" font-size="28.90" textLength="26.00" lengthAdjust="spacingAndGlyphs" fill="#000" >-1</text>
<text x="1339.70" y="1272.80" font-family="'Liberation Serif', 'Times New Roman', serif" font-weight="bold" font-size="28.90" textLength="15.61" lengthAdjust="spacingAndGlyphs" fill="#000" >0</text>
<text x="1395.36" y="1272.80" font-family="'Liberation Serif', 'Times New Roman', serif" font-weight="bold" font-size="28.90" textLength="15.61" lengthAdjust="spacingAndGlyphs" fill="#000" >1</text>
<text x="1451.91" y="1272.80" font-family="'Liberation Serif', 'Times New Roman', serif" font-weight="bold" font-size="28.90" textLength="15.61" lengthAdjust="spacingAndGlyphs" fill="#000" >2</text>
<text x="1204.34" y="1306.20" font-family="'Liberation Serif', 'Times New Roman', serif" font-weight="bold" font-size="25.40" textLength="228.56" lengthAdjust="spacingAndGlyphs" fill="#000" >Log [concentration]</text>
<text transform="rotate(-90)" x="-1149.79" y="1081.20" font-family="'Liberation Serif', 'Times New Roman', serif" font-weight="bold" font-size="26.00" textLength="270.14" lengthAdjust="spacingAndGlyphs">% Max. Wt Response</text>
<text x="1244.81" y="815.50" font-family="'Liberation Sans', Arial, Helvetica, sans-serif" font-weight="bold" font-size="51.50" textLength="40.64" lengthAdjust="spacingAndGlyphs" fill="#000" stroke="#000" stroke-width="1.2">vi</text>
<polyline points="1179.20,1172.31 1181.28,1172.30 1183.36,1172.30 1185.44,1172.30 1187.52,1172.29 1189.60,1172.29 1191.68,1172.28 1193.76,1172.28 1195.84,1172.27 1197.92,1172.27 1200.00,1172.26 1202.08,1172.26 1204.16,1172.25 1206.24,1172.24 1208.33,1172.23 1210.41,1172.22 1212.49,1172.21 1214.57,1172.20 1216.65,1172.19 1218.73,1172.18 1220.81,1172.17 1222.89,1172.15 1224.97,1172.14 1227.05,1172.12 1229.13,1172.10 1231.21,1172.08 1233.29,1172.06 1235.37,1172.04 1237.45,1172.02 1239.53,1171.99 1241.61,1171.96 1243.69,1171.93 1245.77,1171.90 1247.85,1171.87 1249.93,1171.83 1252.01,1171.79 1254.09,1171.74 1256.17,1171.70 1258.25,1171.64 1260.33,1171.59 1262.41,1171.53 1264.50,1171.46 1266.58,1171.40 1268.66,1171.32 1270.74,1171.24 1272.82,1171.15 1274.90,1171.06 1276.98,1170.96 1279.06,1170.85 1281.14,1170.73 1283.22,1170.60 1285.30,1170.46 1287.38,1170.32 1289.46,1170.16 1291.54,1169.98 1293.62,1169.80 1295.70,1169.60 1297.78,1169.38 1299.86,1169.15 1301.94,1168.90 1304.02,1168.63 1306.10,1168.33 1308.18,1168.02 1310.26,1167.68 1312.34,1167.31 1314.42,1166.92 1316.50,1166.49 1318.59,1166.03 1320.67,1165.54 1322.75,1165.01 1324.83,1164.43 1326.91,1163.81 1328.99,1163.15 1331.07,1162.43 1333.15,1161.65 1335.23,1160.82 1337.31,1159.92 1339.39,1158.96 1341.47,1157.92 1343.55,1156.80 1345.63,1155.60 1347.71,1154.30 1349.79,1152.91 1351.87,1151.41 1353.95,1149.80 1356.03,1148.07 1358.11,1146.21 1360.19,1144.21 1362.27,1142.06 1364.35,1139.76 1366.43,1137.29 1368.51,1134.64 1370.59,1131.80 1372.67,1128.76 1374.76,1125.50 1376.84,1122.02 1378.92,1118.29 1381.00,1114.30 1383.08,1110.04 1385.16,1105.50 1387.24,1100.65 1389.32,1095.48 1391.40,1089.98 1393.48,1084.13 1395.56,1077.91 1397.64,1071.31 1399.72,1064.32 1401.80,1056.91 1403.88,1049.07 1405.96,1040.79 1408.04,1032.06 1410.12,1022.87 1412.20,1013.20 1414.28,1003.06 1416.36,992.43 1418.44,981.31 1420.52,969.70 1422.60,957.61 1424.68,945.03 1426.76,931.99 1428.85,918.49" fill="none" stroke="#D965D8" stroke-width="2.6" stroke-linejoin="round" stroke-linecap="round"/>
<polyline points="1179.20,1195.61 1181.30,1195.43 1183.41,1195.24 1185.51,1195.02 1187.62,1194.78 1189.72,1194.52 1191.82,1194.22 1193.93,1193.90 1196.03,1193.55 1198.13,1193.15 1200.24,1192.72 1202.34,1192.24 1204.45,1191.72 1206.55,1191.14 1208.65,1190.50 1210.76,1189.80 1212.86,1189.03 1214.96,1188.19 1217.07,1187.26 1219.17,1186.24 1221.28,1185.12 1223.38,1183.89 1225.48,1182.55 1227.59,1181.09 1229.69,1179.49 1231.79,1177.74 1233.90,1175.84 1236.00,1173.78 1238.11,1171.54 1240.21,1169.11 1242.31,1166.49 1244.42,1163.66 1246.52,1160.61 1248.62,1157.34 1250.73,1153.83 1252.83,1150.09 1254.93,1146.11 1257.04,1141.88 1259.14,1137.41 1261.25,1132.70 1263.35,1127.76 1265.45,1122.59 1267.56,1117.22 1269.66,1111.64 1271.77,1105.89 1273.87,1099.99 1275.97,1093.95 1278.08,1087.81 1280.18,1081.60 1282.28,1075.35 1284.39,1069.09 1286.49,1062.84 1288.60,1056.65 1290.70,1050.55 1292.80,1044.55 1294.91,1038.70 1297.01,1033.00 1299.11,1027.49 1301.22,1022.18 1303.32,1017.09 1305.42,1012.22 1307.53,1007.59 1309.63,1003.21 1311.74,999.06 1313.84,995.16 1315.94,991.50 1318.05,988.07 1320.15,984.87 1322.26,981.90 1324.36,979.14 1326.46,976.58 1328.57,974.22 1330.67,972.04 1332.77,970.03 1334.88,968.18 1336.98,966.49 1339.09,964.93 1341.19,963.51 1343.29,962.21 1345.40,961.02 1347.50,959.94 1349.60,958.95 1351.71,958.04 1353.81,957.22 1355.91,956.48 1358.02,955.80 1360.12,955.18 1362.23,954.62 1364.33,954.11 1366.43,953.65 1368.54,953.23 1370.64,952.85 1372.75,952.51 1374.85,952.20 1376.95,951.91 1379.06,951.66 1381.16,951.43 1383.26,951.22 1385.37,951.03 1387.47,950.85 1389.58,950.70 1391.68,950.56 1393.78,950.43 1395.89,950.31 1397.99,950.21 1400.09,950.11 1402.20,950.03 1404.30,949.95 1406.40,949.88 1408.51,949.82 1410.61,949.76 1412.72,949.71 1414.82,949.66 1416.92,949.62 1419.03,949.58 1421.13,949.55 1423.24,949.52 1425.34,949.49 1427.44,949.46 1429.55,949.44 1431.65,949.42" fill="none" stroke="#8C5A1A" stroke-width="3.4" stroke-linejoin="round" stroke-linecap="round"/>
<path d="M1207.25,1180.86V1153.56" stroke="#D965D8" stroke-width="2.8" fill="none"/>
<path d="M1198.85,1180.86H1215.65" stroke="#D965D8" stroke-width="2.8" fill="none" stroke-linecap="round"/>
<path d="M1198.85,1153.56H1215.65" stroke="#D965D8" stroke-width="2.8" fill="none" stroke-linecap="round"/>
<path d="M1263.35,1153.56V1141.23" stroke="#D965D8" stroke-width="2.8" fill="none"/>
<path d="M1254.95,1141.23H1271.75" stroke="#D965D8" stroke-width="2.8" fill="none" stroke-linecap="round"/>
<path d="M1431.65,919.86V900.19" stroke="#D965D8" stroke-width="2.8" fill="none"/>
<path d="M1423.25,919.86H1440.05" stroke="#D965D8" stroke-width="2.8" fill="none" stroke-linecap="round"/>
<path d="M1423.25,900.19H1440.05" stroke="#D965D8" stroke-width="2.8" fill="none" stroke-linecap="round"/>
<circle cx="1179.20" cy="1178.22" r="8.5" fill="#D965D8" />
<circle cx="1207.25" cy="1167.06" r="8.5" fill="#D965D8" />
<circle cx="1235.30" cy="1165.89" r="8.5" fill="#D965D8" />
<circle cx="1263.35" cy="1153.56" r="8.5" fill="#D965D8" />
<circle cx="1291.40" cy="1159.72" r="8.5" fill="#D965D8" />
<circle cx="1319.45" cy="1189.37" r="8.5" fill="#D965D8" />
<circle cx="1347.50" cy="1180.86" r="8.5" fill="#D965D8" />
<circle cx="1375.55" cy="1071.35" r="8.5" fill="#D965D8" />
<circle cx="1403.60" cy="1050.51" r="8.5" fill="#D965D8" />
<circle cx="1431.65" cy="910.18" r="8.5" fill="#D965D8" />
<path d="M1263.35,1161.19V1104.23" stroke="#8C5A1A" stroke-width="2.8" fill="none"/>
<path d="M1254.95,1161.19H1271.75" stroke="#8C5A1A" stroke-width="2.8" fill="none" stroke-linecap="round"/>
<path d="M1254.95,1104.23H1271.75" stroke="#8C5A1A" stroke-width="2.8" fill="none" stroke-linecap="round"/>
<path d="M1291.40,1091.61V992.09" stroke="#8C5A1A" stroke-width="2.8" fill="none"/>
<path d="M1283.00,1091.61H1299.80" stroke="#8C5A1A" stroke-width="2.8" fill="none" stroke-linecap="round"/>
<path d="M1283.00,992.09H1299.80" stroke="#8C5A1A" stroke-width="2.8" fill="none" stroke-linecap="round"/>
<path d="M1319.45,1029.96V954.51" stroke="#8C5A1A" stroke-width="2.8" fill="none"/>
<path d="M1311.05,1029.96H1327.85" stroke="#8C5A1A" stroke-width="2.8" fill="none" stroke-linecap="round"/>
<path d="M1311.05,954.51H1327.85" stroke="#8C5A1A" stroke-width="2.8" fill="none" stroke-linecap="round"/>
<path d="M1347.50,1007.65V927.50" stroke="#8C5A1A" stroke-width="2.8" fill="none"/>
<path d="M1339.10,1007.65H1355.90" stroke="#8C5A1A" stroke-width="2.8" fill="none" stroke-linecap="round"/>
<path d="M1339.10,927.50H1355.90" stroke="#8C5A1A" stroke-width="2.8" fill="none" stroke-linecap="round"/>
<path d="M1375.55,1010.29V975.64" stroke="#8C5A1A" stroke-width="2.8" fill="none"/>
<path d="M1367.15,1010.29H1383.95" stroke="#8C5A1A" stroke-width="2.8" fill="none" stroke-linecap="round"/>
<path d="M1367.15,975.64H1383.95" stroke="#8C5A1A" stroke-width="2.8" fill="none" stroke-linecap="round"/>
<path d="M1403.60,965.37V928.08" stroke="#8C5A1A" stroke-width="2.8" fill="none"/>
<path d="M1395.20,965.37H1412.00" stroke="#8C5A1A" stroke-width="2.8" fill="none" stroke-linecap="round"/>
<path d="M1395.20,928.08H1412.00" stroke="#8C5A1A" stroke-width="2.8" fill="none" stroke-linecap="round"/>
<path d="M1431.65,923.68V909.00" stroke="#8C5A1A" stroke-width="2.8" fill="none"/>
<path d="M1423.25,923.68H1440.05" stroke="#8C5A1A" stroke-width="2.8" fill="none" stroke-linecap="round"/>
<path d="M1423.25,909.00H1440.05" stroke="#8C5A1A" stroke-width="2.8" fill="none" stroke-linecap="round"/>
<circle cx="1179.20" cy="1194.36" r="6.4" fill="#8C5A1A" />
<circle cx="1207.25" cy="1183.21" r="6.4" fill="#8C5A1A" />
<circle cx="1235.30" cy="1178.22" r="6.4" fill="#8C5A1A" />
<circle cx="1263.35" cy="1132.71" r="6.4" fill="#8C5A1A" />
<circle cx="1291.40" cy="1042.29" r="6.4" fill="#8C5A1A" />
<circle cx="1319.45" cy="992.97" r="6.4" fill="#8C5A1A" />
<circle cx="1347.50" cy="966.84" r="6.4" fill="#8C5A1A" />
<circle cx="1375.55" cy="992.97" r="6.4" fill="#8C5A1A" />
<circle cx="1403.60" cy="945.99" r="6.4" fill="#8C5A1A" />
<circle cx="1431.65" cy="915.17" r="6.4" fill="#8C5A1A" />
<path d="M1312.5,1097H1346" stroke="#000" stroke-width="4"/><path d="M1343,1087.5L1362.5,1097L1343,1106.5Z" fill="#000"/>
<path d="M1825.0,21.6H1865.0" stroke="#A97A2C" stroke-width="5" stroke-linecap="round"/>
<circle cx="1845" cy="21.6" r="10" fill="#A97A2C"/>
<text x="1886.19" y="40.30" font-family="'Liberation Serif', 'Times New Roman', serif" font-weight="bold" font-size="57.00" textLength="95.68" lengthAdjust="spacingAndGlyphs" fill="#000" >WT</text>
<path d="M1825.0,65.6H1865.0" stroke="#08199A" stroke-width="5" stroke-linecap="round"/>
<circle cx="1845" cy="65.6" r="10" fill="#08199A"/>
<text x="1886.63" y="84.40" font-family="'Liberation Serif', 'Times New Roman', serif" font-weight="bold" font-size="51.50" textLength="136.65" lengthAdjust="spacingAndGlyphs" fill="#000" >39mt</text>
<path d="M1825.0,110.3H1865.0" stroke="#6E0E5E" stroke-width="5" stroke-linecap="round"/>
<circle cx="1845" cy="110.3" r="10" fill="#96C65C"/>
<text x="1887.99" y="129.40" font-family="'Liberation Serif', 'Times New Roman', serif" font-weight="bold" font-size="55.00" textLength="189.04" lengthAdjust="spacingAndGlyphs" fill="#000" >R3.28A</text>
<path d="M1825.0,154.7H1865.0" stroke="#B81A08" stroke-width="5" stroke-linecap="round"/>
<circle cx="1845" cy="154.7" r="10" fill="#B81A08"/>
<text x="1888.00" y="173.40" font-family="'Liberation Serif', 'Times New Roman', serif" font-weight="bold" font-size="54.00" textLength="189.93" lengthAdjust="spacingAndGlyphs" fill="#000" >K7.35A</text>
<path d="M1830.5,208.5H1871.5" stroke="#D965D8" stroke-width="5" stroke-linecap="round"/>
<circle cx="1850.6" cy="208.5" r="10" fill="#D965D8"/>
<text x="1895.17" y="222.20" font-family="'Liberation Serif', 'Times New Roman', serif" font-weight="bold" font-size="41.00" textLength="172.39" lengthAdjust="spacingAndGlyphs" fill="#000" >AGP18:1</text>
<text x="1837.20" y="815.90" font-family="'Liberation Sans', Arial, Helvetica, sans-serif" font-weight="bold" font-size="51.50" textLength="56.60" lengthAdjust="spacingAndGlyphs" fill="#000" stroke="#000" stroke-width="1.2">vii</text>
<text x="1725.57" y="942.60" font-family="'Liberation Sans', Arial, Helvetica, sans-serif" font-weight="bold" font-size="31.50" textLength="136.55" lengthAdjust="spacingAndGlyphs" fill="#000" >Wildtype</text>
<text x="1913.80" y="942.60" font-family="'Liberation Sans', Arial, Helvetica, sans-serif" font-weight="bold" font-size="31.50" textLength="144.69" lengthAdjust="spacingAndGlyphs" fill="#000" >Lys39Ala</text>
<text x="1551.10" y="1037.20" font-family="'Liberation Sans', Arial, Helvetica, sans-serif" font-weight="bold" font-size="30.00" textLength="105.67" lengthAdjust="spacingAndGlyphs" fill="#000" >-Triton</text>
<text x="1560.71" y="1075.90" font-family="'Liberation Sans', Arial, Helvetica, sans-serif" font-weight="bold" font-size="30.00" textLength="88.96" lengthAdjust="spacingAndGlyphs" fill="#000" >X-100</text>
<text x="1548.01" y="1214.00" font-family="'Liberation Sans', Arial, Helvetica, sans-serif" font-weight="bold" font-size="30.00" textLength="113.04" lengthAdjust="spacingAndGlyphs" fill="#000" >+Triton</text>
<text x="1560.71" y="1253.40" font-family="'Liberation Sans', Arial, Helvetica, sans-serif" font-weight="bold" font-size="30.00" textLength="88.96" lengthAdjust="spacingAndGlyphs" fill="#000" >X-100</text>
<rect x="1673" y="950.5" width="209" height="156.5" fill="#010201"/>
<rect x="1887" y="950.5" width="209" height="156.5" fill="#0a0f0a"/>
<rect x="1670.5" y="1149" width="209.5" height="156" fill="#060b06"/>
<rect x="1885" y="1149" width="211" height="156" fill="#030503"/>
<defs>
<filter id="b1" x="-20%" y="-20%" width="140%" height="140%"><feGaussianBlur stdDeviation="11"/></filter>
<filter id="b2" x="-20%" y="-20%" width="140%" height="140%"><feGaussianBlur stdDeviation="26"/></filter>
<filter id="b3" x="-20%" y="-20%" width="140%" height="140%"><feGaussianBlur stdDeviation="45"/></filter>
<clipPath id="cTL"><rect x="1673" y="950.5" width="209" height="156.5"/></clipPath>
<clipPath id="cTR"><rect x="1887" y="950.5" width="209" height="156.5"/></clipPath>
<clipPath id="cBL"><rect x="1670.5" y="1149" width="209.5" height="156"/></clipPath>
<clipPath id="cBR"><rect x="1885" y="1149" width="211" height="156"/></clipPath>
</defs>
<g clip-path="url(#cTL)"><g transform="translate(1670,945) scale(0.12378)">
<path d="M20.0,1090.0C50.0,1038.3 145.0,1026.7 200.0,1000.0C255.0,973.3 305.0,951.7 350.0,930.0C395.0,908.3 428.3,888.3 470.0,870.0C511.7,851.7 561.7,836.7 600.0,820.0C638.3,803.3 673.3,793.3 700.0,770.0C726.7,746.7 740.0,715.0 760.0,680.0C780.0,645.0 805.8,598.3 820.0,560.0C834.2,521.7 840.0,493.3 845.0,450.0C850.0,406.7 852.5,355.0 850.0,300.0C847.5,245.0 835.0,163.3 830.0,120.0C825.0,76.7 813.3,53.3 820.0,40.0C826.7,26.7 861.7,5.0 870.0,40.0C878.3,75.0 873.3,173.3 870.0,250.0C866.7,326.7 863.3,433.3 850.0,500.0C836.7,566.7 808.3,606.7 790.0,650.0C771.7,693.3 750.0,725.0 740.0,760.0C730.0,795.0 723.3,830.0 730.0,860.0C736.7,890.0 756.7,916.7 780.0,940.0C803.3,963.3 833.3,983.3 870.0,1000.0C906.7,1016.7 953.3,1025.0 1000.0,1040.0C1046.7,1055.0 1100.0,1068.3 1150.0,1090.0C1200.0,1111.7 1255.0,1143.3 1300.0,1170.0C1345.0,1196.7 1393.3,1226.7 1420.0,1250.0C1446.7,1273.3 1480.0,1300.0 1460.0,1310.0C1440.0,1320.0 1340.0,1325.0 1300.0,1310.0C1260.0,1295.0 1253.3,1246.7 1220.0,1220.0C1186.7,1193.3 1145.0,1168.3 1100.0,1150.0C1055.0,1131.7 1000.0,1120.0 950.0,1110.0C900.0,1100.0 850.0,1086.7 800.0,1090.0C750.0,1093.3 696.7,1113.3 650.0,1130.0C603.3,1146.7 548.3,1160.0 520.0,1190.0C491.7,1220.0 563.3,1290.0 480.0,1310.0C396.7,1330.0 96.7,1346.7 20.0,1310.0C-56.7,1273.3 -10.0,1141.7 20.0,1090.0Z" fill="#0d3a0d" fill-opacity="0.95" filter="url(#b2)"/>
<ellipse cx="540" cy="1000" rx="110" ry="80" fill="#000" fill-opacity="0.35" filter="url(#b3)"/>
<path d="M30.0,1090.0C58.3,1075.0 150.0,1025.8 200.0,1000.0C250.0,974.2 308.3,945.8 330.0,935.0" fill="none" stroke="#229622" stroke-width="17.6" stroke-opacity="0.55" stroke-linecap="round" stroke-linejoin="round" filter="url(#b1)"/>
<path d="M300.0,950.0C328.3,936.7 420.0,890.0 470.0,870.0C520.0,850.0 563.3,843.3 600.0,830.0C636.7,816.7 663.3,815.0 690.0,790.0C716.7,765.0 738.3,718.3 760.0,680.0C781.7,641.7 805.8,595.0 820.0,560.0C834.2,525.0 840.8,485.0 845.0,470.0" fill="none" stroke="#2ccc2c" stroke-width="22.400000000000002" stroke-opacity="0.9" stroke-linecap="round" stroke-linejoin="round" filter="url(#b1)"/>
<path d="M845.0,470.0C845.8,441.7 852.5,358.3 850.0,300.0C847.5,241.7 835.0,163.3 830.0,120.0C825.0,76.7 821.7,53.3 820.0,40.0" fill="none" stroke="#1f7a1f" stroke-width="32.0" stroke-opacity="0.7" stroke-linecap="round" stroke-linejoin="round" filter="url(#b2)"/>
<path d="M860.0,500.0C850.0,525.0 820.0,606.7 800.0,650.0C780.0,693.3 750.8,725.0 740.0,760.0C729.2,795.0 726.7,828.3 735.0,860.0C743.3,891.7 765.8,925.0 790.0,950.0C814.2,975.0 845.0,994.2 880.0,1010.0C915.0,1025.8 955.0,1030.8 1000.0,1045.0C1045.0,1059.2 1103.3,1074.2 1150.0,1095.0C1196.7,1115.8 1238.3,1144.2 1280.0,1170.0C1321.7,1195.8 1373.3,1228.3 1400.0,1250.0C1426.7,1271.7 1433.3,1291.7 1440.0,1300.0" fill="none" stroke="#2ccc2c" stroke-width="27.200000000000003" stroke-opacity="0.95" stroke-linecap="round" stroke-linejoin="round" filter="url(#b1)"/>
<path d="M300.0,1130.0C305.0,1116.7 320.0,1078.3 330.0,1050.0C340.0,1021.7 355.0,975.0 360.0,960.0" fill="none" stroke="#229622" stroke-width="14.4" stroke-opacity="0.6" stroke-linecap="round" stroke-linejoin="round" filter="url(#b1)"/>
<path d="M520.0,1190.0C541.7,1180.0 603.3,1146.7 650.0,1130.0C696.7,1113.3 775.0,1096.7 800.0,1090.0" fill="none" stroke="#229622" stroke-width="14.4" stroke-opacity="0.6" stroke-linecap="round" stroke-linejoin="round" filter="url(#b1)"/>
<path d="M1000.0,40.0C987.5,50.0 1000.0,65.0 1010.0,100.0C1020.0,135.0 1046.7,200.0 1060.0,250.0C1073.3,300.0 1083.3,350.0 1090.0,400.0C1096.7,450.0 1098.3,500.0 1100.0,550.0C1101.7,600.0 1096.7,665.0 1100.0,700.0C1103.3,735.0 1106.7,745.0 1120.0,760.0C1133.3,775.0 1156.7,783.3 1180.0,790.0C1203.3,796.7 1235.0,803.3 1260.0,800.0C1285.0,796.7 1309.2,786.7 1330.0,770.0C1350.8,753.3 1374.2,728.3 1385.0,700.0C1395.8,671.7 1397.5,633.3 1395.0,600.0C1392.5,566.7 1382.5,525.0 1370.0,500.0C1357.5,475.0 1345.0,470.0 1320.0,450.0C1295.0,430.0 1253.3,408.3 1220.0,380.0C1186.7,351.7 1142.5,318.3 1120.0,280.0C1097.5,241.7 1090.8,190.0 1085.0,150.0C1079.2,110.0 1099.2,58.3 1085.0,40.0C1070.8,21.7 1012.5,30.0 1000.0,40.0Z" fill="#0b320b" fill-opacity="0.95" filter="url(#b2)"/>
<path d="M1040.0,60.0C1046.7,91.7 1061.7,201.7 1080.0,250.0C1098.3,298.3 1138.3,333.3 1150.0,350.0" fill="none" stroke="#229622" stroke-width="16.0" stroke-opacity="0.6" stroke-linecap="round" stroke-linejoin="round" filter="url(#b1)"/>
<path d="M1150.0,350.0C1166.7,361.7 1218.3,398.3 1250.0,420.0C1281.7,441.7 1317.5,456.7 1340.0,480.0C1362.5,503.3 1376.7,531.7 1385.0,560.0C1393.3,588.3 1392.5,623.3 1390.0,650.0C1387.5,676.7 1381.7,700.0 1370.0,720.0C1358.3,740.0 1338.3,758.3 1320.0,770.0C1301.7,781.7 1283.3,788.3 1260.0,790.0C1236.7,791.7 1203.3,786.7 1180.0,780.0C1156.7,773.3 1133.3,763.3 1120.0,750.0C1106.7,736.7 1103.3,708.3 1100.0,700.0" fill="none" stroke="#2ccc2c" stroke-width="19.200000000000003" stroke-opacity="0.85" stroke-linecap="round" stroke-linejoin="round" filter="url(#b1)"/>
<path d="M1010.0,60.0C1018.3,91.7 1046.7,193.3 1060.0,250.0C1073.3,306.7 1083.3,350.0 1090.0,400.0C1096.7,450.0 1098.3,500.0 1100.0,550.0C1101.7,600.0 1100.0,675.0 1100.0,700.0" fill="none" stroke="#229622" stroke-width="12.8" stroke-opacity="0.4" stroke-linecap="round" stroke-linejoin="round" filter="url(#b1)"/>
<path d="M1330.0,790.0C1350.0,808.3 1411.7,860.0 1450.0,900.0C1488.3,940.0 1521.7,980.0 1560.0,1030.0C1598.3,1080.0 1660.0,1171.7 1680.0,1200.0" fill="none" stroke="#229622" stroke-width="12.8" stroke-opacity="0.35" stroke-linecap="round" stroke-linejoin="round" filter="url(#b1)"/>
<ellipse cx="1120" cy="750" rx="30" ry="30" fill="#2ccc2c" fill-opacity="0.8" filter="url(#b1)"/>
</g></g>
<g clip-path="url(#cTR)"><rect x="1887" y="950.5" width="209" height="156.5" fill="#0b100b"/><g transform="translate(1885,945) scale(0.12378)">
<path d="M570.0,40.0C594.2,5.0 706.7,13.3 730.0,40.0C753.3,66.7 721.7,151.7 710.0,200.0C698.3,248.3 678.3,296.7 660.0,330.0C641.7,363.3 616.7,391.7 600.0,400.0C583.3,408.3 562.5,405.0 560.0,380.0C557.5,355.0 583.3,306.7 585.0,250.0C586.7,193.3 545.8,75.0 570.0,40.0Z" fill="#1f7a1f" fill-opacity="0.95" filter="url(#b2)"/>
<path d="M700.0,150.0C713.3,133.3 758.3,140.0 800.0,140.0C841.7,140.0 915.0,138.3 950.0,150.0C985.0,161.7 1008.3,195.0 1010.0,210.0C1011.7,225.0 986.7,238.3 960.0,240.0C933.3,241.7 890.0,220.0 850.0,220.0C810.0,220.0 745.0,251.7 720.0,240.0C695.0,228.3 686.7,166.7 700.0,150.0Z" fill="#1e7a1e" fill-opacity="0.9" filter="url(#b2)"/>
<ellipse cx="960" cy="190" rx="40" ry="30" fill="#2ccc2c" fill-opacity="0.9" filter="url(#b1)"/>
<path d="M820.0,300.0C833.3,293.3 861.7,263.3 900.0,260.0C938.3,256.7 1016.7,260.0 1050.0,280.0C1083.3,300.0 1100.0,350.0 1100.0,380.0C1100.0,410.0 1078.3,448.3 1050.0,460.0C1021.7,471.7 963.3,460.0 930.0,450.0C896.7,440.0 868.3,425.0 850.0,400.0C831.7,375.0 825.0,316.7 820.0,300.0" fill="none" stroke="#1d6a1d" stroke-width="11.200000000000001" stroke-opacity="0.6" stroke-linecap="round" stroke-linejoin="round" filter="url(#b1)"/>
<path d="M290.0,620.0C298.3,590.0 348.3,511.7 380.0,480.0C411.7,448.3 443.3,446.7 480.0,430.0C516.7,413.3 575.0,371.7 600.0,380.0C625.0,388.3 625.0,443.3 630.0,480.0C635.0,516.7 633.3,563.3 630.0,600.0C626.7,636.7 615.0,668.3 610.0,700.0C605.0,731.7 615.0,783.3 600.0,790.0C585.0,796.7 550.0,756.7 520.0,740.0C490.0,723.3 451.7,703.3 420.0,690.0C388.3,676.7 351.7,671.7 330.0,660.0C308.3,648.3 281.7,650.0 290.0,620.0Z" fill="#0f400f" fill-opacity="0.95" filter="url(#b2)"/>
<path d="M280.0,630.0C295.0,606.7 336.7,521.7 370.0,490.0C403.3,458.3 445.0,456.7 480.0,440.0C515.0,423.3 558.3,400.0 580.0,390.0C601.7,380.0 605.0,381.7 610.0,380.0" fill="none" stroke="#46f046" stroke-width="27.200000000000003" stroke-opacity="0.95" stroke-linecap="round" stroke-linejoin="round" filter="url(#b1)"/>
<path d="M290.0,630.0C308.3,640.0 361.7,672.5 400.0,690.0C438.3,707.5 486.7,718.3 520.0,735.0C553.3,751.7 586.7,780.8 600.0,790.0" fill="none" stroke="#46f046" stroke-width="27.200000000000003" stroke-opacity="0.95" stroke-linecap="round" stroke-linejoin="round" filter="url(#b1)"/>
<path d="M610.0,390.0C613.3,405.0 626.7,445.0 630.0,480.0C633.3,515.0 633.3,563.3 630.0,600.0C626.7,636.7 615.0,668.3 610.0,700.0C605.0,731.7 601.7,775.0 600.0,790.0" fill="none" stroke="#2ccc2c" stroke-width="19.200000000000003" stroke-opacity="0.85" stroke-linecap="round" stroke-linejoin="round" filter="url(#b1)"/>
<path d="M590.0,60.0C591.7,91.7 598.3,196.7 600.0,250.0C601.7,303.3 600.0,358.3 600.0,380.0" fill="none" stroke="#229622" stroke-width="17.6" stroke-opacity="0.7" stroke-linecap="round" stroke-linejoin="round" filter="url(#b1)"/>
<path d="M680.0,60.0C676.7,91.7 668.3,196.7 660.0,250.0C651.7,303.3 635.0,358.3 630.0,380.0" fill="none" stroke="#229622" stroke-width="14.4" stroke-opacity="0.5" stroke-linecap="round" stroke-linejoin="round" filter="url(#b1)"/>
<path d="M290.0,640.0C275.0,660.0 230.0,720.0 200.0,760.0C170.0,800.0 140.0,838.3 110.0,880.0C80.0,921.7 35.0,988.3 20.0,1010.0" fill="none" stroke="#40e040" stroke-width="35.2" stroke-opacity="0.95" stroke-linecap="round" stroke-linejoin="round" filter="url(#b1)"/>
<path d="M600.0,790.0C613.3,808.3 653.3,863.3 680.0,900.0C706.7,936.7 723.3,976.7 760.0,1010.0C796.7,1043.3 851.7,1073.3 900.0,1100.0C948.3,1126.7 1000.0,1143.3 1050.0,1170.0C1100.0,1196.7 1175.0,1245.0 1200.0,1260.0" fill="none" stroke="#2cb82c" stroke-width="24.0" stroke-opacity="0.85" stroke-linecap="round" stroke-linejoin="round" filter="url(#b1)"/>
<ellipse cx="1070" cy="1190" rx="60" ry="50" fill="#2ca02c" fill-opacity="0.8" filter="url(#b2)"/>
<ellipse cx="720" cy="1070" rx="20" ry="18" fill="#2ccc2c" fill-opacity="0.9" filter="url(#b1)"/>
<ellipse cx="670" cy="1090" rx="14" ry="12" fill="#2ccc2c" fill-opacity="0.7" filter="url(#b1)"/>
<path d="M1700.0,360.0C1683.3,330.0 1641.7,396.7 1600.0,420.0C1558.3,443.3 1495.0,470.0 1450.0,500.0C1405.0,530.0 1360.0,566.7 1330.0,600.0C1300.0,633.3 1285.0,666.7 1270.0,700.0C1255.0,733.3 1251.7,766.7 1240.0,800.0C1228.3,833.3 1218.3,866.7 1200.0,900.0C1181.7,933.3 1150.0,963.3 1130.0,1000.0C1110.0,1036.7 1093.3,1083.3 1080.0,1120.0C1066.7,1156.7 1038.3,1223.3 1050.0,1220.0C1061.7,1216.7 1116.7,1145.0 1150.0,1100.0C1183.3,1055.0 1216.7,991.7 1250.0,950.0C1283.3,908.3 1308.3,875.0 1350.0,850.0C1391.7,825.0 1461.7,815.0 1500.0,800.0C1538.3,785.0 1555.0,785.0 1580.0,760.0C1605.0,735.0 1630.0,676.7 1650.0,650.0C1670.0,623.3 1691.7,648.3 1700.0,600.0C1708.3,551.7 1716.7,390.0 1700.0,360.0Z" fill="#114411" fill-opacity="0.95" filter="url(#b2)"/>
<path d="M1700.0,360.0C1683.3,370.0 1641.7,396.7 1600.0,420.0C1558.3,443.3 1495.0,470.0 1450.0,500.0C1405.0,530.0 1360.0,566.7 1330.0,600.0C1300.0,633.3 1285.0,666.7 1270.0,700.0C1255.0,733.3 1251.7,766.7 1240.0,800.0C1228.3,833.3 1218.3,866.7 1200.0,900.0C1181.7,933.3 1150.0,963.3 1130.0,1000.0C1110.0,1036.7 1093.3,1083.3 1080.0,1120.0C1066.7,1156.7 1055.0,1203.3 1050.0,1220.0" fill="none" stroke="#33c033" stroke-width="17.6" stroke-opacity="0.85" stroke-linecap="round" stroke-linejoin="round" filter="url(#b1)"/>
<path d="M1700.0,600.0C1691.7,608.3 1670.0,623.3 1650.0,650.0C1630.0,676.7 1605.0,735.0 1580.0,760.0C1555.0,785.0 1538.3,785.0 1500.0,800.0C1461.7,815.0 1391.7,825.0 1350.0,850.0C1308.3,875.0 1283.3,908.3 1250.0,950.0C1216.7,991.7 1166.7,1075.0 1150.0,1100.0" fill="none" stroke="#229622" stroke-width="12.8" stroke-opacity="0.6" stroke-linecap="round" stroke-linejoin="round" filter="url(#b1)"/>
</g></g>
<g clip-path="url(#cBL)"><rect x="1670.5" y="1149" width="209.5" height="156" fill="#070c07"/><g transform="translate(1665,1143) scale(0.12601)">
<path d="M40.0,50.0C75.0,-15.0 190.0,40.0 250.0,50.0C310.0,60.0 350.0,90.0 400.0,110.0C450.0,130.0 500.0,148.3 550.0,170.0C600.0,191.7 650.0,218.3 700.0,240.0C750.0,261.7 808.3,291.7 850.0,300.0C891.7,308.3 916.7,306.7 950.0,290.0C983.3,273.3 1008.3,241.7 1050.0,200.0C1091.7,158.3 1165.0,66.7 1200.0,40.0C1235.0,13.3 1276.7,10.0 1260.0,40.0C1243.3,70.0 1143.3,171.7 1100.0,220.0C1056.7,268.3 1019.2,296.7 1000.0,330.0C980.8,363.3 976.7,388.3 985.0,420.0C993.3,451.7 1027.5,488.3 1050.0,520.0C1072.5,551.7 1101.7,571.7 1120.0,610.0C1138.3,648.3 1145.0,701.7 1160.0,750.0C1175.0,798.3 1196.7,865.0 1210.0,900.0C1223.3,935.0 1253.3,956.7 1240.0,960.0C1226.7,963.3 1156.7,955.0 1130.0,920.0C1103.3,885.0 1098.3,798.3 1080.0,750.0C1061.7,701.7 1041.7,666.7 1020.0,630.0C998.3,593.3 978.3,560.0 950.0,530.0C921.7,500.0 891.7,471.7 850.0,450.0C808.3,428.3 750.0,410.8 700.0,400.0C650.0,389.2 600.0,390.0 550.0,385.0C500.0,380.0 450.0,373.3 400.0,370.0C350.0,366.7 291.7,362.5 250.0,365.0C208.3,367.5 185.0,372.5 150.0,385.0C115.0,397.5 58.3,495.8 40.0,440.0C21.7,384.2 5.0,115.0 40.0,50.0Z" fill="#196819" fill-opacity="0.95" filter="url(#b2)"/>
<ellipse cx="460" cy="260" rx="80" ry="70" fill="#0a300a" fill-opacity="0.7" filter="url(#b2)"/>
<ellipse cx="350" cy="250" rx="18" ry="18" fill="#3ad23a" fill-opacity="0.8" filter="url(#b1)"/>
<ellipse cx="520" cy="345" rx="16" ry="16" fill="#3ad23a" fill-opacity="0.8" filter="url(#b1)"/>
<ellipse cx="1050" cy="600" rx="30" ry="30" fill="#3ad23a" fill-opacity="0.6" filter="url(#b1)"/>
<path d="M1130.0,1000.0C1155.0,975.0 1205.0,950.0 1250.0,930.0C1295.0,910.0 1358.3,881.7 1400.0,880.0C1441.7,878.3 1466.7,898.3 1500.0,920.0C1533.3,941.7 1575.0,988.3 1600.0,1010.0C1625.0,1031.7 1653.3,1026.7 1650.0,1050.0C1646.7,1073.3 1613.3,1129.2 1580.0,1150.0C1546.7,1170.8 1496.7,1172.5 1450.0,1175.0C1403.3,1177.5 1350.0,1171.7 1300.0,1165.0C1250.0,1158.3 1183.3,1149.2 1150.0,1135.0C1116.7,1120.8 1103.3,1102.5 1100.0,1080.0C1096.7,1057.5 1105.0,1025.0 1130.0,1000.0Z" fill="#1f841f" fill-opacity="0.95" filter="url(#b2)"/>
<ellipse cx="1420" cy="1050" rx="90" ry="65" fill="#0c3a0c" fill-opacity="0.7" filter="url(#b2)"/>
<ellipse cx="1200" cy="1020" rx="40" ry="40" fill="#3ad23a" fill-opacity="0.7" filter="url(#b1)"/>
<ellipse cx="1340" cy="1085" rx="15" ry="15" fill="#46f046" fill-opacity="0.9" filter="url(#b1)"/>
<path d="M1250.0,940.0C1275.0,930.0 1355.0,881.7 1400.0,880.0C1445.0,878.3 1483.3,905.0 1520.0,930.0C1556.7,955.0 1603.3,1013.3 1620.0,1030.0" fill="none" stroke="#3ad23a" stroke-width="22.0" stroke-opacity="0.6" stroke-linecap="round" stroke-linejoin="round" filter="url(#b1)"/>
<path d="M1400.0,890.0C1403.3,866.7 1415.0,798.3 1420.0,750.0C1425.0,701.7 1428.3,625.0 1430.0,600.0" fill="none" stroke="#1b6a1b" stroke-width="18.0" stroke-opacity="0.6" stroke-linecap="round" stroke-linejoin="round" filter="url(#b1)"/>
<path d="M1530.0,1150.0C1536.7,1161.7 1558.3,1198.3 1570.0,1220.0C1581.7,1241.7 1595.0,1270.0 1600.0,1280.0" fill="none" stroke="#2a9a2a" stroke-width="26.0" stroke-opacity="0.8" stroke-linecap="round" stroke-linejoin="round" filter="url(#b1)"/>
<path d="M1150.0,1130.0C1125.0,1136.7 1050.0,1156.7 1000.0,1170.0C950.0,1183.3 900.0,1198.3 850.0,1210.0C800.0,1221.7 725.0,1235.0 700.0,1240.0" fill="none" stroke="#1f7f1f" stroke-width="40.0" stroke-opacity="0.7" stroke-linecap="round" stroke-linejoin="round" filter="url(#b1)"/>
<path d="M250.0,1240.0C283.3,1229.2 383.3,1175.8 450.0,1175.0C516.7,1174.2 616.7,1225.0 650.0,1235.0" fill="none" stroke="#155a15" stroke-width="30.0" stroke-opacity="0.5" stroke-linecap="round" stroke-linejoin="round" filter="url(#b1)"/>
<path d="M1000.0,500.0C1025.0,511.7 1125.0,558.3 1150.0,570.0" fill="none" stroke="#1b6a1b" stroke-width="10.0" stroke-opacity="0.5" stroke-linecap="round" stroke-linejoin="round" filter="url(#b1)"/>
</g></g>
<g clip-path="url(#cBR)"><g transform="translate(1880,1143) scale(0.12601)">
<path d="M45.0,450.0C67.5,413.3 137.5,360.0 180.0,340.0C222.5,320.0 260.0,320.0 300.0,330.0C340.0,340.0 391.7,375.0 420.0,400.0C448.3,425.0 463.3,453.3 470.0,480.0C476.7,506.7 471.7,536.7 460.0,560.0C448.3,583.3 426.7,605.8 400.0,620.0C373.3,634.2 333.3,648.3 300.0,645.0C266.7,641.7 242.5,614.2 200.0,600.0C157.5,585.8 70.8,585.0 45.0,560.0C19.2,535.0 22.5,486.7 45.0,450.0Z" fill="#196a19" fill-opacity="0.95" filter="url(#b2)"/>
<ellipse cx="310" cy="500" rx="70" ry="70" fill="#0b3a0b" fill-opacity="0.6" filter="url(#b2)"/>
<path d="M240.0,700.0C261.7,675.0 290.0,660.0 330.0,650.0C370.0,640.0 441.7,631.7 480.0,640.0C518.3,648.3 540.0,665.0 560.0,700.0C580.0,735.0 590.0,803.3 600.0,850.0C610.0,896.7 636.7,949.2 620.0,980.0C603.3,1010.8 536.7,1025.8 500.0,1035.0C463.3,1044.2 428.3,1049.2 400.0,1035.0C371.7,1020.8 355.0,979.2 330.0,950.0C305.0,920.8 271.7,885.0 250.0,860.0C228.3,835.0 201.7,826.7 200.0,800.0C198.3,773.3 218.3,725.0 240.0,700.0Z" fill="#1b721b" fill-opacity="0.95" filter="url(#b2)"/>
<ellipse cx="420" cy="760" rx="60" ry="60" fill="#0d400d" fill-opacity="0.5" filter="url(#b2)"/>
<path d="M40.0,820.0C66.7,806.7 163.3,790.0 200.0,800.0C236.7,810.0 260.0,863.3 260.0,880.0C260.0,896.7 236.7,900.0 200.0,900.0C163.3,900.0 66.7,893.3 40.0,880.0C13.3,866.7 13.3,833.3 40.0,820.0Z" fill="#186018" fill-opacity="0.9" filter="url(#b2)"/>
<path d="M560.0,760.0C573.3,708.3 651.7,680.0 700.0,650.0C748.3,620.0 808.3,595.0 850.0,580.0C891.7,565.0 925.0,550.0 950.0,560.0C975.0,570.0 1008.3,608.3 1000.0,640.0C991.7,671.7 941.7,713.3 900.0,750.0C858.3,786.7 796.7,825.0 750.0,860.0C703.3,895.0 651.7,976.7 620.0,960.0C588.3,943.3 546.7,811.7 560.0,760.0Z" fill="#124a12" fill-opacity="0.95" filter="url(#b2)"/>
<path d="M560.0,760.0C583.3,741.7 651.7,680.0 700.0,650.0C748.3,620.0 808.3,595.0 850.0,580.0C891.7,565.0 933.3,563.3 950.0,560.0" fill="none" stroke="#1f801f" stroke-width="16.0" stroke-opacity="0.7" stroke-linecap="round" stroke-linejoin="round" filter="url(#b1)"/>
<path d="M620.0,960.0C641.7,943.3 703.3,895.0 750.0,860.0C796.7,825.0 858.3,786.7 900.0,750.0C941.7,713.3 983.3,658.3 1000.0,640.0" fill="none" stroke="#1f801f" stroke-width="16.0" stroke-opacity="0.7" stroke-linecap="round" stroke-linejoin="round" filter="url(#b1)"/>
<path d="M300.0,330.0C310.0,308.3 338.3,245.0 360.0,200.0C381.7,155.0 418.3,83.3 430.0,60.0" fill="none" stroke="#1f801f" stroke-width="22.0" stroke-opacity="0.8" stroke-linecap="round" stroke-linejoin="round" filter="url(#b1)"/>
<path d="M480.0,420.0C485.0,400.0 500.0,336.7 510.0,300.0C520.0,263.3 525.0,233.3 540.0,200.0C555.0,166.7 590.0,116.7 600.0,100.0" fill="none" stroke="#1c701c" stroke-width="18.0" stroke-opacity="0.7" stroke-linecap="round" stroke-linejoin="round" filter="url(#b1)"/>
<path d="M600.0,500.0C641.7,486.7 783.3,440.0 850.0,420.0C916.7,400.0 950.0,380.0 1000.0,380.0C1050.0,380.0 1125.0,413.3 1150.0,420.0" fill="none" stroke="#1b6a1b" stroke-width="18.0" stroke-opacity="0.7" stroke-linecap="round" stroke-linejoin="round" filter="url(#b1)"/>
<path d="M1180.0,540.0C1208.3,525.0 1296.7,476.7 1350.0,450.0C1403.3,423.3 1441.7,406.7 1500.0,380.0C1558.3,353.3 1666.7,305.0 1700.0,290.0" fill="none" stroke="#2dac2d" stroke-width="44.0" stroke-opacity="0.9" stroke-linecap="round" stroke-linejoin="round" filter="url(#b1)"/>
<path d="M1060.0,200.0C1070.0,225.0 1101.7,291.7 1120.0,350.0C1138.3,408.3 1160.8,491.7 1170.0,550.0C1179.2,608.3 1176.7,641.7 1175.0,700.0C1173.3,758.3 1164.2,803.3 1160.0,900.0C1155.8,996.7 1151.7,1216.7 1150.0,1280.0" fill="none" stroke="#1b6a1b" stroke-width="18.0" stroke-opacity="0.7" stroke-linecap="round" stroke-linejoin="round" filter="url(#b1)"/>
<path d="M1000.0,680.0C1028.3,683.3 1115.0,705.0 1170.0,700.0C1225.0,695.0 1303.3,658.3 1330.0,650.0" fill="none" stroke="#1f801f" stroke-width="18.0" stroke-opacity="0.7" stroke-linecap="round" stroke-linejoin="round" filter="url(#b1)"/>
<path d="M1200.0,580.0C1221.7,590.0 1296.7,628.3 1330.0,640.0C1363.3,651.7 1388.3,648.3 1400.0,650.0" fill="none" stroke="#1f801f" stroke-width="14.0" stroke-opacity="0.6" stroke-linecap="round" stroke-linejoin="round" filter="url(#b1)"/>
<path d="M1360.0,800.0C1366.7,760.0 1376.7,690.0 1400.0,660.0C1423.3,630.0 1463.3,623.3 1500.0,620.0C1536.7,616.7 1585.8,626.7 1620.0,640.0C1654.2,653.3 1690.8,660.0 1705.0,700.0C1719.2,740.0 1722.5,843.3 1705.0,880.0C1687.5,916.7 1642.5,908.3 1600.0,920.0C1557.5,931.7 1490.0,953.3 1450.0,950.0C1410.0,946.7 1375.0,925.0 1360.0,900.0C1345.0,875.0 1353.3,840.0 1360.0,800.0Z" fill="#249224" fill-opacity="0.95" filter="url(#b2)"/>
<ellipse cx="1480" cy="760" rx="70" ry="60" fill="#145214" fill-opacity="0.6" filter="url(#b2)"/>
<ellipse cx="1390" cy="820" rx="20" ry="30" fill="#46f046" fill-opacity="0.8" filter="url(#b1)"/>
<ellipse cx="1560" cy="730" rx="20" ry="20" fill="#46f046" fill-opacity="0.6" filter="url(#b1)"/>
<path d="M1270.0,1000.0C1278.3,1016.7 1298.3,1066.7 1320.0,1100.0C1341.7,1133.3 1378.3,1175.0 1400.0,1200.0C1421.7,1225.0 1425.0,1251.7 1450.0,1250.0C1475.0,1248.3 1507.5,1206.7 1550.0,1190.0C1592.5,1173.3 1679.2,1156.7 1705.0,1150.0" fill="none" stroke="#28a028" stroke-width="30.0" stroke-opacity="0.8" stroke-linecap="round" stroke-linejoin="round" filter="url(#b1)"/>
<ellipse cx="1300" cy="1050" rx="30" ry="50" fill="#2dac2d" fill-opacity="0.7" filter="url(#b1)"/>
</g></g>
</svg></body></html>
